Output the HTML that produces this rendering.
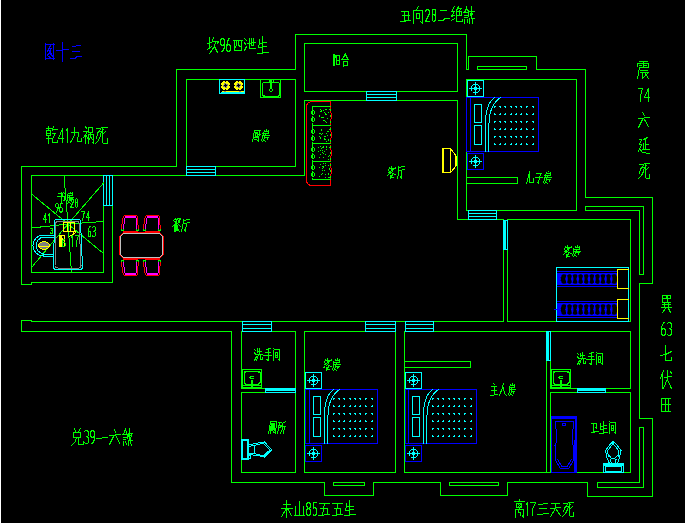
<!DOCTYPE html>
<html><head><meta charset="utf-8"><title>floor plan</title>
<style>
html,body{margin:0;padding:0;background:#000;font-family:"Liberation Sans",sans-serif;}
body{width:686px;height:523px;overflow:hidden;position:relative;}
svg{position:absolute;left:0;top:0;display:block;}
</style></head><body>
<svg width="686" height="523" viewBox="0 0 686 523" shape-rendering="crispEdges">
<rect x="0" y="0" width="686" height="523" fill="#000"/>
<rect x="0" y="0" width="1" height="523" fill="#fff"/>
<rect x="685" y="0" width="1" height="523" fill="#fff"/>
<g transform="translate(0.5,0.5)" fill="none" stroke-width="1" stroke-linecap="square" stroke-linejoin="miter">
<polygon points="176,69 295,69 295,34 466,34 466,69 468,69 468,56 536,56 536,69 585,69 585,197 652,197 652,283 639,283 639,418 652,418 652,496 587,496 587,482 507,482 507,495 440,495 440,482 373,482 373,495 324,495 324,482 231,482 231,331 21,331 21,320 31,320 31,321 503,321 503,219 457,219 457,100 304,100 304,175 112,175 112,282 31,282 31,284 21,284 21,166 176,166" stroke="#00ff00" fill="none"/>
<polygon points="304,43 457,43 457,91 304,91" stroke="#00ff00" fill="none"/>
<polygon points="186,79 295,79 295,166 186,166" stroke="#00ff00" fill="none"/>
<polygon points="31,175 103,175 103,272 31,272" stroke="#00ff00" fill="none"/>
<polygon points="466,79 576,79 576,210 466,210" stroke="#00ff00" fill="none"/>
<polygon points="507,219 630,219 630,321 507,321" stroke="#00ff00" fill="none"/>
<polygon points="585,206 643,206 643,274 639,274 639,210 585,210" stroke="#00ff00" fill="none"/>
<polygon points="639,427 643,427 643,487 597,487 597,482 639,482" stroke="#00ff00" fill="none"/>
<polygon points="550,331 630,331 630,388 550,388" stroke="#00ff00" fill="none"/>
<polygon points="550,392 630,392 630,472 550,472" stroke="#00ff00" fill="none"/>
<polyline points="546,472 546,331 404,331 404,472 550,472" stroke="#00ff00" fill="none"/>
<polygon points="304,331 395,331 395,472 304,472" stroke="#00ff00" fill="none"/>
<polygon points="241,331 295,331 295,388 241,388" stroke="#00ff00" fill="none"/>
<polygon points="241,392 295,392 295,472 241,472" stroke="#00ff00" fill="none"/>
<polygon points="477,66 526,66 526,69 477,69" stroke="#00ff00" fill="none"/>
<polygon points="333,482 364,482 364,485 333,485" stroke="#00ff00" fill="none"/>
<polygon points="449,482 498,482 498,485 449,485" stroke="#00ff00" fill="none"/>
<rect x="186.5" y="165.5" width="28" height="10" fill="#000" stroke="none"/>
<polygon points="186,166 215,166 215,175 186,175" stroke="#00ffff" fill="none"/>
<polyline points="186,169 215,169" stroke="#00ffff" fill="none"/>
<polyline points="186,172 215,172" stroke="#00ffff" fill="none"/>
<rect x="366.5" y="90.5" width="29" height="10" fill="#000" stroke="none"/>
<polygon points="366,91 396,91 396,100 366,100" stroke="#00ffff" fill="none"/>
<polyline points="366,94 396,94" stroke="#00ffff" fill="none"/>
<polyline points="366,97 396,97" stroke="#00ffff" fill="none"/>
<rect x="468.5" y="209.5" width="27" height="10" fill="#000" stroke="none"/>
<polygon points="468,210 496,210 496,219 468,219" stroke="#00ffff" fill="none"/>
<polyline points="468,213 496,213" stroke="#00ffff" fill="none"/>
<polyline points="468,216 496,216" stroke="#00ffff" fill="none"/>
<rect x="242.5" y="320.5" width="28" height="11" fill="#000" stroke="none"/>
<polygon points="242,321 271,321 271,331 242,331" stroke="#00ffff" fill="none"/>
<polyline points="242,324 271,324" stroke="#00ffff" fill="none"/>
<polyline points="242,328 271,328" stroke="#00ffff" fill="none"/>
<rect x="365.5" y="320.5" width="29" height="11" fill="#000" stroke="none"/>
<polygon points="365,321 395,321 395,331 365,331" stroke="#00ffff" fill="none"/>
<polyline points="365,324 395,324" stroke="#00ffff" fill="none"/>
<polyline points="365,328 395,328" stroke="#00ffff" fill="none"/>
<rect x="405.5" y="320.5" width="27" height="11" fill="#000" stroke="none"/>
<polygon points="405,321 433,321 433,331 405,331" stroke="#00ffff" fill="none"/>
<polyline points="405,324 433,324" stroke="#00ffff" fill="none"/>
<polyline points="405,328 433,328" stroke="#00ffff" fill="none"/>
<polygon points="103,175 112,175 112,205 103,205" stroke="#00ffff" fill="none"/>
<polyline points="106,175 106,205" stroke="#00ffff" fill="none"/>
<polyline points="109,175 109,205" stroke="#00ffff" fill="none"/>
<polygon points="503,220 507,220 507,249 503,249" stroke="#00ffff" fill="none"/>
<polyline points="505,220 505,249" stroke="#00ffff" fill="none"/>
<polyline points="504,220 504,249" stroke="#00ffff" fill="none"/>
<polygon points="546,331 550,331 550,360 546,360" stroke="#00ffff" fill="none"/>
<polyline points="548,331 548,360" stroke="#00ffff" fill="none"/>
<polyline points="547,331 547,360" stroke="#00ffff" fill="none"/>
<polygon points="265,388 295,388 295,392 265,392" stroke="#00ffff" fill="none"/>
<polyline points="265,389 295,389" stroke="#00ffff" fill="none"/>
<polyline points="265,390 295,390" stroke="#00ffff" fill="none"/>
<polygon points="577,388 605,388 605,392 577,392" stroke="#00ffff" fill="none"/>
<polyline points="577,389 605,389" stroke="#00ffff" fill="none"/>
<polyline points="577,390 605,390" stroke="#00ffff" fill="none"/>
<polyline points="67.5,223.5 63.5,175" stroke="#00ff00" fill="none"/>
<polyline points="67.5,223.5 103,182.5" stroke="#00ff00" fill="none"/>
<polyline points="67.5,223.5 103,221" stroke="#00ff00" fill="none"/>
<polyline points="67.5,223.5 103,253" stroke="#00ff00" fill="none"/>
<polyline points="67.5,223.5 71,272" stroke="#00ff00" fill="none"/>
<polyline points="67.5,223.5 31,267" stroke="#00ff00" fill="none"/>
<polyline points="67.5,223.5 31,227.5" stroke="#00ff00" fill="none"/>
<polyline points="67.5,223.5 31,193.5" stroke="#00ff00" fill="none"/>
<path d="M56,219 L78,219 Q80,219 80,221 L82,266 Q82,269 79,269 L56,269 Q53,269 53,266 L54,221 Q54,219 56,219 Z" stroke="#00ffff" fill="none"/>
<path d="M57,220.5 L77,220.5 Q78.5,220.5 78.5,222 L80.5,265 Q80.5,267.5 78,267.5 L57,267.5 Q54.5,267.5 54.5,265 L55.5,222 Q55.5,220.5 57,220.5 Z" stroke="#808080" fill="none"/>
<path d="M53,234.5 L43,234.5 A10.5,10.5 0 0 0 43,255.5 L53,255.5" stroke="#00ffff" fill="none"/>
<path d="M53,236.5 L43,236.5 A8.6,8.6 0 0 0 43,253.5 L53,253.5" stroke="#00ffff" fill="none"/>
<ellipse cx="43.5" cy="245" rx="5.5" ry="3.8" stroke="#ffff00" fill="#808080"/>
<polyline points="39,246 48,246" stroke="#ffff00" fill="none"/>
<polygon points="63,222 74,222 74,231 63,231" stroke="#ffff00" fill="none"/>
<polyline points="67,222 67,231" stroke="#ffff00" fill="none"/>
<polyline points="70,222 70,231" stroke="#ffff00" fill="none"/>
<polyline points="74,231 72,234 69,236" stroke="#ffff00" fill="none"/>
<polyline points="74,229 75,232 71,235" stroke="#ffff00" fill="none"/>
<polygon points="59,235 64,235 64,246 59,246" stroke="#ffff00" fill="none"/>
<rect x="59.5" y="235.5" width="2" height="10" fill="#ffff00" stroke="none"/>
<polyline points="62,238 62,244" stroke="#ffff00" fill="none"/>
<polygon points="219,79 244,79 244,93 219,93" stroke="#00ffff" fill="none"/>
<circle cx="225" cy="85" r="4.2" stroke="#ffff00" fill="#ffff00"/>
<rect x="224.5" y="82.5" width="1" height="1" fill="#808080" stroke="none"/>
<rect x="225.5" y="83.5" width="1" height="1" fill="#808080" stroke="none"/>
<rect x="226.5" y="84.5" width="1" height="1" fill="#808080" stroke="none"/>
<rect x="225.5" y="85.5" width="1" height="1" fill="#808080" stroke="none"/>
<rect x="224.5" y="86.5" width="1" height="1" fill="#808080" stroke="none"/>
<rect x="223.5" y="85.5" width="1" height="1" fill="#808080" stroke="none"/>
<rect x="222.5" y="84.5" width="1" height="1" fill="#808080" stroke="none"/>
<rect x="223.5" y="83.5" width="1" height="1" fill="#808080" stroke="none"/>
<rect x="223.5" y="82.5" width="1" height="1" fill="#808080" stroke="none"/>
<rect x="225.5" y="86.5" width="1" height="1" fill="#808080" stroke="none"/>
<rect x="226.5" y="83.5" width="1" height="1" fill="#808080" stroke="none"/>
<rect x="222.5" y="85.5" width="1" height="1" fill="#808080" stroke="none"/>
<rect x="223.5" y="84.5" width="3" height="1" fill="#000" stroke="none"/>
<rect x="224.5" y="83.5" width="1" height="3" fill="#000" stroke="none"/>
<rect x="220.5" y="84.5" width="1" height="1" fill="#000" stroke="none"/>
<rect x="228.5" y="84.5" width="1" height="1" fill="#000" stroke="none"/>
<rect x="224.5" y="80.5" width="1" height="1" fill="#000" stroke="none"/>
<rect x="224.5" y="88.5" width="1" height="1" fill="#000" stroke="none"/>
<circle cx="238" cy="85" r="4.2" stroke="#ffff00" fill="#ffff00"/>
<rect x="237.5" y="82.5" width="1" height="1" fill="#808080" stroke="none"/>
<rect x="238.5" y="83.5" width="1" height="1" fill="#808080" stroke="none"/>
<rect x="239.5" y="84.5" width="1" height="1" fill="#808080" stroke="none"/>
<rect x="238.5" y="85.5" width="1" height="1" fill="#808080" stroke="none"/>
<rect x="237.5" y="86.5" width="1" height="1" fill="#808080" stroke="none"/>
<rect x="236.5" y="85.5" width="1" height="1" fill="#808080" stroke="none"/>
<rect x="235.5" y="84.5" width="1" height="1" fill="#808080" stroke="none"/>
<rect x="236.5" y="83.5" width="1" height="1" fill="#808080" stroke="none"/>
<rect x="236.5" y="82.5" width="1" height="1" fill="#808080" stroke="none"/>
<rect x="238.5" y="86.5" width="1" height="1" fill="#808080" stroke="none"/>
<rect x="239.5" y="83.5" width="1" height="1" fill="#808080" stroke="none"/>
<rect x="235.5" y="85.5" width="1" height="1" fill="#808080" stroke="none"/>
<rect x="236.5" y="84.5" width="3" height="1" fill="#000" stroke="none"/>
<rect x="237.5" y="83.5" width="1" height="3" fill="#000" stroke="none"/>
<rect x="233.5" y="84.5" width="1" height="1" fill="#000" stroke="none"/>
<rect x="241.5" y="84.5" width="1" height="1" fill="#000" stroke="none"/>
<rect x="237.5" y="80.5" width="1" height="1" fill="#000" stroke="none"/>
<rect x="237.5" y="88.5" width="1" height="1" fill="#000" stroke="none"/>
<polyline points="222,91 243,91" stroke="#ffff00" fill="none"/>
<polyline points="221,92 243,92" stroke="#00ffff" fill="none"/>
<polyline points="224,91 225,91" stroke="#c08040" fill="none"/>
<polyline points="239,91 240,91" stroke="#c08040" fill="none"/>
<polygon points="260,79 280,79 280,97 260,97" stroke="#00ff00" fill="none"/>
<path d="M264,82 L277,82 Q279,82 279,84 L279,93 Q279,95.5 277,95.5 L264,95.5 Q262,95.5 262,93 L262,84 Q262,82 264,82 Z" stroke="#00ff00" fill="none"/>
<polyline points="269,79 269,82" stroke="#00ff00" fill="none"/>
<polyline points="273,79 273,82" stroke="#00ff00" fill="none"/>
<polyline points="270,80 270,88" stroke="#00ff00" fill="none"/>
<polyline points="271,80 271,88" stroke="#00ff00" fill="none"/>
<circle cx="270.5" cy="89.5" r="1.3" stroke="#00ff00" fill="none"/>
<polyline points="262,95 264,96" stroke="#00ff00" fill="none"/>
<polyline points="279,95 277,96" stroke="#00ff00" fill="none"/>
<path d="M330,101 L312,101 Q306,101 306,107 L306,179 Q306,185 312,185 L330,185" stroke="#ff0000" fill="none"/>
<polyline points="330,101 330,108" stroke="#ff0000" fill="none"/>
<polyline points="330,179 330,185" stroke="#ff0000" fill="none"/>
<polyline points="330,106 312,106 312,125 330,125" stroke="#00ff00" fill="none"/>
<polyline points="313,110 314,111 314,113 313,114" stroke="#00ff00" fill="none"/>
<rect x="311.5" y="114.5" width="1" height="1" fill="#000" stroke="none"/>
<rect x="310.5" y="110.5" width="1" height="3" fill="#00ff00" stroke="none"/>
<polyline points="313,117 314,118 314,120 313,121" stroke="#00ff00" fill="none"/>
<rect x="311.5" y="121.5" width="1" height="1" fill="#000" stroke="none"/>
<rect x="310.5" y="117.5" width="1" height="3" fill="#00ff00" stroke="none"/>
<polyline points="330,108 330,112 331,113 331,118 330,119 330,124" stroke="#ff0000" fill="none"/>
<rect x="329.5" y="108.5" width="1" height="2" fill="#00ff00" stroke="none"/>
<rect x="329.5" y="114.5" width="1" height="2" fill="#00ff00" stroke="none"/>
<rect x="329.5" y="120.5" width="1" height="2" fill="#00ff00" stroke="none"/>
<rect x="322.5" y="109.5" width="1" height="1" fill="#00ff00" stroke="none"/>
<rect x="325.5" y="108.5" width="1" height="1" fill="#00ff00" stroke="none"/>
<rect x="324.5" y="112.5" width="1" height="1" fill="#00ff00" stroke="none"/>
<rect x="318.5" y="115.5" width="1" height="1" fill="#00ff00" stroke="none"/>
<rect x="318.5" y="114.5" width="1" height="1" fill="#00ff00" stroke="none"/>
<rect x="319.5" y="108.5" width="1" height="1" fill="#00ff00" stroke="none"/>
<rect x="323.5" y="119.5" width="1" height="1" fill="#00ff00" stroke="none"/>
<rect x="320.5" y="110.5" width="1" height="1" fill="#00ff00" stroke="none"/>
<rect x="325.5" y="121.5" width="1" height="1" fill="#00ff00" stroke="none"/>
<rect x="324.5" y="113.5" width="1" height="1" fill="#00ff00" stroke="none"/>
<rect x="328.5" y="108.5" width="1" height="1" fill="#00ff00" stroke="none"/>
<rect x="327.5" y="111.5" width="1" height="1" fill="#00ff00" stroke="none"/>
<rect x="320.5" y="109.5" width="1" height="1" fill="#00ff00" stroke="none"/>
<rect x="322.5" y="119.5" width="1" height="1" fill="#00ff00" stroke="none"/>
<rect x="320.5" y="116.5" width="1" height="1" fill="#00ff00" stroke="none"/>
<rect x="325.5" y="113.5" width="1" height="1" fill="#00ff00" stroke="none"/>
<rect x="324.5" y="108.5" width="1" height="1" fill="#00ff00" stroke="none"/>
<rect x="319.5" y="110.5" width="1" height="1" fill="#00ff00" stroke="none"/>
<rect x="325.5" y="113.5" width="1" height="1" fill="#00ff00" stroke="none"/>
<rect x="322.5" y="116.5" width="1" height="1" fill="#00ff00" stroke="none"/>
<rect x="323.5" y="111.5" width="1" height="1" fill="#00ff00" stroke="none"/>
<rect x="326.5" y="117.5" width="1" height="1" fill="#00ff00" stroke="none"/>
<rect x="321.5" y="116.5" width="1" height="1" fill="#00ff00" stroke="none"/>
<rect x="324.5" y="120.5" width="1" height="1" fill="#00ff00" stroke="none"/>
<polyline points="330,125 312,125 312,143 330,143" stroke="#00ff00" fill="none"/>
<polyline points="313,129 314,130 314,132 313,133" stroke="#00ff00" fill="none"/>
<rect x="311.5" y="133.5" width="1" height="1" fill="#000" stroke="none"/>
<rect x="310.5" y="129.5" width="1" height="3" fill="#00ff00" stroke="none"/>
<polyline points="313,136 314,137 314,139 313,140" stroke="#00ff00" fill="none"/>
<rect x="311.5" y="140.5" width="1" height="1" fill="#000" stroke="none"/>
<rect x="310.5" y="136.5" width="1" height="3" fill="#00ff00" stroke="none"/>
<polyline points="330,127 330,131 331,132 331,137 330,138 330,142" stroke="#ff0000" fill="none"/>
<rect x="329.5" y="127.5" width="1" height="2" fill="#00ff00" stroke="none"/>
<rect x="329.5" y="133.5" width="1" height="2" fill="#00ff00" stroke="none"/>
<rect x="329.5" y="139.5" width="1" height="2" fill="#00ff00" stroke="none"/>
<rect x="326.5" y="130.5" width="1" height="1" fill="#00ff00" stroke="none"/>
<rect x="328.5" y="128.5" width="1" height="1" fill="#00ff00" stroke="none"/>
<rect x="323.5" y="137.5" width="1" height="1" fill="#00ff00" stroke="none"/>
<rect x="320.5" y="133.5" width="1" height="1" fill="#00ff00" stroke="none"/>
<rect x="318.5" y="135.5" width="1" height="1" fill="#00ff00" stroke="none"/>
<rect x="326.5" y="134.5" width="1" height="1" fill="#00ff00" stroke="none"/>
<rect x="327.5" y="130.5" width="1" height="1" fill="#00ff00" stroke="none"/>
<rect x="326.5" y="134.5" width="1" height="1" fill="#00ff00" stroke="none"/>
<rect x="325.5" y="132.5" width="1" height="1" fill="#00ff00" stroke="none"/>
<rect x="327.5" y="139.5" width="1" height="1" fill="#00ff00" stroke="none"/>
<rect x="324.5" y="135.5" width="1" height="1" fill="#00ff00" stroke="none"/>
<rect x="319.5" y="136.5" width="1" height="1" fill="#00ff00" stroke="none"/>
<rect x="325.5" y="140.5" width="1" height="1" fill="#00ff00" stroke="none"/>
<rect x="327.5" y="130.5" width="1" height="1" fill="#00ff00" stroke="none"/>
<rect x="323.5" y="135.5" width="1" height="1" fill="#00ff00" stroke="none"/>
<rect x="318.5" y="132.5" width="1" height="1" fill="#00ff00" stroke="none"/>
<rect x="320.5" y="128.5" width="1" height="1" fill="#00ff00" stroke="none"/>
<rect x="319.5" y="137.5" width="1" height="1" fill="#00ff00" stroke="none"/>
<rect x="320.5" y="129.5" width="1" height="1" fill="#00ff00" stroke="none"/>
<rect x="323.5" y="138.5" width="1" height="1" fill="#00ff00" stroke="none"/>
<rect x="319.5" y="132.5" width="1" height="1" fill="#00ff00" stroke="none"/>
<rect x="324.5" y="138.5" width="1" height="1" fill="#00ff00" stroke="none"/>
<rect x="327.5" y="138.5" width="1" height="1" fill="#00ff00" stroke="none"/>
<rect x="321.5" y="132.5" width="1" height="1" fill="#00ff00" stroke="none"/>
<polyline points="330,143 312,143 312,161 330,161" stroke="#00ff00" fill="none"/>
<polyline points="313,147 314,148 314,150 313,151" stroke="#00ff00" fill="none"/>
<rect x="311.5" y="151.5" width="1" height="1" fill="#000" stroke="none"/>
<rect x="310.5" y="147.5" width="1" height="3" fill="#00ff00" stroke="none"/>
<polyline points="313,154 314,155 314,157 313,158" stroke="#00ff00" fill="none"/>
<rect x="311.5" y="158.5" width="1" height="1" fill="#000" stroke="none"/>
<rect x="310.5" y="154.5" width="1" height="3" fill="#00ff00" stroke="none"/>
<polyline points="330,145 330,149 331,150 331,155 330,156 330,160" stroke="#ff0000" fill="none"/>
<rect x="329.5" y="145.5" width="1" height="2" fill="#00ff00" stroke="none"/>
<rect x="329.5" y="151.5" width="1" height="2" fill="#00ff00" stroke="none"/>
<rect x="329.5" y="157.5" width="1" height="2" fill="#00ff00" stroke="none"/>
<rect x="322.5" y="156.5" width="1" height="1" fill="#00ff00" stroke="none"/>
<rect x="328.5" y="146.5" width="1" height="1" fill="#00ff00" stroke="none"/>
<rect x="320.5" y="147.5" width="1" height="1" fill="#00ff00" stroke="none"/>
<rect x="321.5" y="151.5" width="1" height="1" fill="#00ff00" stroke="none"/>
<rect x="325.5" y="148.5" width="1" height="1" fill="#00ff00" stroke="none"/>
<rect x="317.5" y="150.5" width="1" height="1" fill="#00ff00" stroke="none"/>
<rect x="322.5" y="152.5" width="1" height="1" fill="#00ff00" stroke="none"/>
<rect x="328.5" y="154.5" width="1" height="1" fill="#00ff00" stroke="none"/>
<rect x="324.5" y="153.5" width="1" height="1" fill="#00ff00" stroke="none"/>
<rect x="325.5" y="145.5" width="1" height="1" fill="#00ff00" stroke="none"/>
<rect x="327.5" y="155.5" width="1" height="1" fill="#00ff00" stroke="none"/>
<rect x="327.5" y="155.5" width="1" height="1" fill="#00ff00" stroke="none"/>
<rect x="323.5" y="150.5" width="1" height="1" fill="#00ff00" stroke="none"/>
<rect x="319.5" y="153.5" width="1" height="1" fill="#00ff00" stroke="none"/>
<rect x="319.5" y="145.5" width="1" height="1" fill="#00ff00" stroke="none"/>
<rect x="321.5" y="146.5" width="1" height="1" fill="#00ff00" stroke="none"/>
<rect x="322.5" y="145.5" width="1" height="1" fill="#00ff00" stroke="none"/>
<rect x="317.5" y="146.5" width="1" height="1" fill="#00ff00" stroke="none"/>
<rect x="319.5" y="149.5" width="1" height="1" fill="#00ff00" stroke="none"/>
<rect x="318.5" y="156.5" width="1" height="1" fill="#00ff00" stroke="none"/>
<rect x="325.5" y="146.5" width="1" height="1" fill="#00ff00" stroke="none"/>
<rect x="321.5" y="149.5" width="1" height="1" fill="#00ff00" stroke="none"/>
<rect x="322.5" y="146.5" width="1" height="1" fill="#00ff00" stroke="none"/>
<rect x="327.5" y="158.5" width="1" height="1" fill="#00ff00" stroke="none"/>
<polyline points="330,161 312,161 312,179 330,179" stroke="#00ff00" fill="none"/>
<polyline points="313,165 314,166 314,168 313,169" stroke="#00ff00" fill="none"/>
<rect x="311.5" y="169.5" width="1" height="1" fill="#000" stroke="none"/>
<rect x="310.5" y="165.5" width="1" height="3" fill="#00ff00" stroke="none"/>
<polyline points="313,172 314,173 314,175 313,176" stroke="#00ff00" fill="none"/>
<rect x="311.5" y="176.5" width="1" height="1" fill="#000" stroke="none"/>
<rect x="310.5" y="172.5" width="1" height="3" fill="#00ff00" stroke="none"/>
<polyline points="330,163 330,167 331,168 331,173 330,174 330,178" stroke="#ff0000" fill="none"/>
<rect x="329.5" y="163.5" width="1" height="2" fill="#00ff00" stroke="none"/>
<rect x="329.5" y="169.5" width="1" height="2" fill="#00ff00" stroke="none"/>
<rect x="329.5" y="175.5" width="1" height="2" fill="#00ff00" stroke="none"/>
<rect x="323.5" y="169.5" width="1" height="1" fill="#00ff00" stroke="none"/>
<rect x="319.5" y="163.5" width="1" height="1" fill="#00ff00" stroke="none"/>
<rect x="322.5" y="166.5" width="1" height="1" fill="#00ff00" stroke="none"/>
<rect x="327.5" y="164.5" width="1" height="1" fill="#00ff00" stroke="none"/>
<rect x="318.5" y="175.5" width="1" height="1" fill="#00ff00" stroke="none"/>
<rect x="324.5" y="164.5" width="1" height="1" fill="#00ff00" stroke="none"/>
<rect x="324.5" y="162.5" width="1" height="1" fill="#00ff00" stroke="none"/>
<rect x="324.5" y="176.5" width="1" height="1" fill="#00ff00" stroke="none"/>
<rect x="327.5" y="172.5" width="1" height="1" fill="#00ff00" stroke="none"/>
<rect x="321.5" y="167.5" width="1" height="1" fill="#00ff00" stroke="none"/>
<rect x="320.5" y="173.5" width="1" height="1" fill="#00ff00" stroke="none"/>
<rect x="324.5" y="173.5" width="1" height="1" fill="#00ff00" stroke="none"/>
<rect x="322.5" y="165.5" width="1" height="1" fill="#00ff00" stroke="none"/>
<rect x="327.5" y="176.5" width="1" height="1" fill="#00ff00" stroke="none"/>
<rect x="327.5" y="173.5" width="1" height="1" fill="#00ff00" stroke="none"/>
<rect x="327.5" y="172.5" width="1" height="1" fill="#00ff00" stroke="none"/>
<rect x="321.5" y="169.5" width="1" height="1" fill="#00ff00" stroke="none"/>
<rect x="322.5" y="162.5" width="1" height="1" fill="#00ff00" stroke="none"/>
<rect x="318.5" y="166.5" width="1" height="1" fill="#00ff00" stroke="none"/>
<rect x="321.5" y="172.5" width="1" height="1" fill="#00ff00" stroke="none"/>
<rect x="328.5" y="168.5" width="1" height="1" fill="#00ff00" stroke="none"/>
<rect x="328.5" y="176.5" width="1" height="1" fill="#00ff00" stroke="none"/>
<rect x="328.5" y="167.5" width="1" height="1" fill="#00ff00" stroke="none"/>
<rect x="321.5" y="165.5" width="1" height="1" fill="#00ff00" stroke="none"/>
<polygon points="442,148 450,148 450,172 442,172" stroke="#ffff00" fill="none"/>
<polyline points="443,148 443,172" stroke="#ffff00" fill="none"/>
<polyline points="450,148 456,156 456,165 450,172" stroke="#ffff00" fill="none"/>
<polyline points="455,156 455,165" stroke="#ffff00" fill="none"/>
<polygon points="467,80 483,80 483,96 467,96" stroke="#00ffff" fill="none"/>
<circle cx="475" cy="88" r="4.5" stroke="#00ffff" fill="none"/>
<rect x="473.5" y="86.5" width="3" height="3" fill="#00ffff" stroke="none"/>
<polyline points="469,88 481,88" stroke="#00ffff" fill="none"/>
<polyline points="475,82 475,94" stroke="#00ffff" fill="none"/>
<polygon points="466,97 538,97 538,151 466,151" stroke="#0000ff" fill="none"/>
<polyline points="470,97 470,151" stroke="#0000ff" fill="none"/>
<polygon points="474,104 481,104 481,122 474,122" stroke="#00ffff" fill="none"/>
<polygon points="474,125 481,125 481,144 474,144" stroke="#00ffff" fill="none"/>
<path d="M494,97 Q485.5,103 485,121 L485,151" stroke="#00ffff" fill="none"/>
<path d="M500,97 Q489,104 488.5,123 L488,151" stroke="#00ffff" fill="none"/>
<rect x="493.5" y="105.5" width="2" height="1" fill="#00ffff" stroke="none"/>
<rect x="493.5" y="106.5" width="1" height="1" fill="#00ffff" stroke="none"/>
<rect x="498.5" y="105.5" width="2" height="1" fill="#00ffff" stroke="none"/>
<rect x="499.5" y="106.5" width="1" height="1" fill="#00ffff" stroke="none"/>
<rect x="503.5" y="105.5" width="2" height="1" fill="#00ffff" stroke="none"/>
<rect x="504.5" y="106.5" width="1" height="1" fill="#00ffff" stroke="none"/>
<rect x="509.5" y="105.5" width="2" height="1" fill="#00ffff" stroke="none"/>
<rect x="510.5" y="106.5" width="1" height="1" fill="#00ffff" stroke="none"/>
<rect x="514.5" y="105.5" width="2" height="1" fill="#00ffff" stroke="none"/>
<rect x="515.5" y="106.5" width="1" height="1" fill="#00ffff" stroke="none"/>
<rect x="519.5" y="105.5" width="2" height="1" fill="#00ffff" stroke="none"/>
<rect x="520.5" y="106.5" width="1" height="1" fill="#00ffff" stroke="none"/>
<rect x="525.5" y="105.5" width="2" height="1" fill="#00ffff" stroke="none"/>
<rect x="525.5" y="106.5" width="1" height="1" fill="#00ffff" stroke="none"/>
<rect x="531.5" y="105.5" width="2" height="1" fill="#00ffff" stroke="none"/>
<rect x="532.5" y="106.5" width="1" height="1" fill="#00ffff" stroke="none"/>
<rect x="493.5" y="113.5" width="2" height="1" fill="#00ffff" stroke="none"/>
<rect x="493.5" y="112.5" width="1" height="1" fill="#00ffff" stroke="none"/>
<rect x="498.5" y="113.5" width="2" height="1" fill="#00ffff" stroke="none"/>
<rect x="499.5" y="112.5" width="1" height="1" fill="#00ffff" stroke="none"/>
<rect x="503.5" y="113.5" width="2" height="1" fill="#00ffff" stroke="none"/>
<rect x="504.5" y="112.5" width="1" height="1" fill="#00ffff" stroke="none"/>
<rect x="509.5" y="113.5" width="2" height="1" fill="#00ffff" stroke="none"/>
<rect x="510.5" y="112.5" width="1" height="1" fill="#00ffff" stroke="none"/>
<rect x="514.5" y="113.5" width="2" height="1" fill="#00ffff" stroke="none"/>
<rect x="515.5" y="112.5" width="1" height="1" fill="#00ffff" stroke="none"/>
<rect x="519.5" y="113.5" width="2" height="1" fill="#00ffff" stroke="none"/>
<rect x="520.5" y="112.5" width="1" height="1" fill="#00ffff" stroke="none"/>
<rect x="525.5" y="113.5" width="2" height="1" fill="#00ffff" stroke="none"/>
<rect x="525.5" y="112.5" width="1" height="1" fill="#00ffff" stroke="none"/>
<rect x="531.5" y="113.5" width="2" height="1" fill="#00ffff" stroke="none"/>
<rect x="532.5" y="112.5" width="1" height="1" fill="#00ffff" stroke="none"/>
<rect x="493.5" y="120.5" width="2" height="1" fill="#00ffff" stroke="none"/>
<rect x="493.5" y="121.5" width="1" height="1" fill="#00ffff" stroke="none"/>
<rect x="498.5" y="120.5" width="2" height="1" fill="#00ffff" stroke="none"/>
<rect x="499.5" y="121.5" width="1" height="1" fill="#00ffff" stroke="none"/>
<rect x="503.5" y="120.5" width="2" height="1" fill="#00ffff" stroke="none"/>
<rect x="504.5" y="121.5" width="1" height="1" fill="#00ffff" stroke="none"/>
<rect x="509.5" y="120.5" width="2" height="1" fill="#00ffff" stroke="none"/>
<rect x="510.5" y="121.5" width="1" height="1" fill="#00ffff" stroke="none"/>
<rect x="514.5" y="120.5" width="2" height="1" fill="#00ffff" stroke="none"/>
<rect x="515.5" y="121.5" width="1" height="1" fill="#00ffff" stroke="none"/>
<rect x="519.5" y="120.5" width="2" height="1" fill="#00ffff" stroke="none"/>
<rect x="520.5" y="121.5" width="1" height="1" fill="#00ffff" stroke="none"/>
<rect x="525.5" y="120.5" width="2" height="1" fill="#00ffff" stroke="none"/>
<rect x="525.5" y="121.5" width="1" height="1" fill="#00ffff" stroke="none"/>
<rect x="531.5" y="120.5" width="2" height="1" fill="#00ffff" stroke="none"/>
<rect x="532.5" y="121.5" width="1" height="1" fill="#00ffff" stroke="none"/>
<rect x="493.5" y="128.5" width="2" height="1" fill="#00ffff" stroke="none"/>
<rect x="493.5" y="127.5" width="1" height="1" fill="#00ffff" stroke="none"/>
<rect x="498.5" y="128.5" width="2" height="1" fill="#00ffff" stroke="none"/>
<rect x="499.5" y="127.5" width="1" height="1" fill="#00ffff" stroke="none"/>
<rect x="503.5" y="128.5" width="2" height="1" fill="#00ffff" stroke="none"/>
<rect x="504.5" y="127.5" width="1" height="1" fill="#00ffff" stroke="none"/>
<rect x="509.5" y="128.5" width="2" height="1" fill="#00ffff" stroke="none"/>
<rect x="510.5" y="127.5" width="1" height="1" fill="#00ffff" stroke="none"/>
<rect x="514.5" y="128.5" width="2" height="1" fill="#00ffff" stroke="none"/>
<rect x="515.5" y="127.5" width="1" height="1" fill="#00ffff" stroke="none"/>
<rect x="519.5" y="128.5" width="2" height="1" fill="#00ffff" stroke="none"/>
<rect x="520.5" y="127.5" width="1" height="1" fill="#00ffff" stroke="none"/>
<rect x="525.5" y="128.5" width="2" height="1" fill="#00ffff" stroke="none"/>
<rect x="525.5" y="127.5" width="1" height="1" fill="#00ffff" stroke="none"/>
<rect x="531.5" y="128.5" width="2" height="1" fill="#00ffff" stroke="none"/>
<rect x="532.5" y="127.5" width="1" height="1" fill="#00ffff" stroke="none"/>
<rect x="493.5" y="135.5" width="2" height="1" fill="#00ffff" stroke="none"/>
<rect x="493.5" y="136.5" width="1" height="1" fill="#00ffff" stroke="none"/>
<rect x="498.5" y="135.5" width="2" height="1" fill="#00ffff" stroke="none"/>
<rect x="499.5" y="136.5" width="1" height="1" fill="#00ffff" stroke="none"/>
<rect x="503.5" y="135.5" width="2" height="1" fill="#00ffff" stroke="none"/>
<rect x="504.5" y="136.5" width="1" height="1" fill="#00ffff" stroke="none"/>
<rect x="509.5" y="135.5" width="2" height="1" fill="#00ffff" stroke="none"/>
<rect x="510.5" y="136.5" width="1" height="1" fill="#00ffff" stroke="none"/>
<rect x="514.5" y="135.5" width="2" height="1" fill="#00ffff" stroke="none"/>
<rect x="515.5" y="136.5" width="1" height="1" fill="#00ffff" stroke="none"/>
<rect x="519.5" y="135.5" width="2" height="1" fill="#00ffff" stroke="none"/>
<rect x="520.5" y="136.5" width="1" height="1" fill="#00ffff" stroke="none"/>
<rect x="525.5" y="135.5" width="2" height="1" fill="#00ffff" stroke="none"/>
<rect x="525.5" y="136.5" width="1" height="1" fill="#00ffff" stroke="none"/>
<rect x="531.5" y="135.5" width="2" height="1" fill="#00ffff" stroke="none"/>
<rect x="532.5" y="136.5" width="1" height="1" fill="#00ffff" stroke="none"/>
<rect x="493.5" y="143.5" width="2" height="1" fill="#00ffff" stroke="none"/>
<rect x="493.5" y="142.5" width="1" height="1" fill="#00ffff" stroke="none"/>
<rect x="498.5" y="143.5" width="2" height="1" fill="#00ffff" stroke="none"/>
<rect x="499.5" y="142.5" width="1" height="1" fill="#00ffff" stroke="none"/>
<rect x="503.5" y="143.5" width="2" height="1" fill="#00ffff" stroke="none"/>
<rect x="504.5" y="142.5" width="1" height="1" fill="#00ffff" stroke="none"/>
<rect x="509.5" y="143.5" width="2" height="1" fill="#00ffff" stroke="none"/>
<rect x="510.5" y="142.5" width="1" height="1" fill="#00ffff" stroke="none"/>
<rect x="514.5" y="143.5" width="2" height="1" fill="#00ffff" stroke="none"/>
<rect x="515.5" y="142.5" width="1" height="1" fill="#00ffff" stroke="none"/>
<rect x="519.5" y="143.5" width="2" height="1" fill="#00ffff" stroke="none"/>
<rect x="520.5" y="142.5" width="1" height="1" fill="#00ffff" stroke="none"/>
<rect x="525.5" y="143.5" width="2" height="1" fill="#00ffff" stroke="none"/>
<rect x="525.5" y="142.5" width="1" height="1" fill="#00ffff" stroke="none"/>
<rect x="531.5" y="143.5" width="2" height="1" fill="#00ffff" stroke="none"/>
<rect x="532.5" y="142.5" width="1" height="1" fill="#00ffff" stroke="none"/>
<polygon points="467,153 483,153 483,169 467,169" stroke="#0000ff" fill="none"/>
<circle cx="475" cy="161" r="4.5" stroke="#00ffff" fill="none"/>
<rect x="473.5" y="159.5" width="3" height="3" fill="#00ffff" stroke="none"/>
<polyline points="469,161 481,161" stroke="#00ffff" fill="none"/>
<polyline points="475,155 475,167" stroke="#00ffff" fill="none"/>
<polygon points="466,177 517,177 517,183 466,183" stroke="#00ff00" fill="none"/>
<polygon points="305,372 321,372 321,388 305,388" stroke="#00ffff" fill="none"/>
<circle cx="313" cy="380" r="4.5" stroke="#00ffff" fill="none"/>
<rect x="311.5" y="378.5" width="3" height="3" fill="#00ffff" stroke="none"/>
<polyline points="307,380 319,380" stroke="#00ffff" fill="none"/>
<polyline points="313,374 313,386" stroke="#00ffff" fill="none"/>
<polygon points="305,389 377,389 377,443 305,443" stroke="#0000ff" fill="none"/>
<polyline points="309,389 309,443" stroke="#0000ff" fill="none"/>
<polygon points="313,396 320,396 320,414 313,414" stroke="#00ffff" fill="none"/>
<polygon points="313,417 320,417 320,436 313,436" stroke="#00ffff" fill="none"/>
<path d="M333,389 Q324.5,395 324,413 L324,443" stroke="#00ffff" fill="none"/>
<path d="M339,389 Q328,396 327.5,415 L327,443" stroke="#00ffff" fill="none"/>
<rect x="332.5" y="397.5" width="2" height="1" fill="#00ffff" stroke="none"/>
<rect x="332.5" y="398.5" width="1" height="1" fill="#00ffff" stroke="none"/>
<rect x="337.5" y="397.5" width="2" height="1" fill="#00ffff" stroke="none"/>
<rect x="338.5" y="398.5" width="1" height="1" fill="#00ffff" stroke="none"/>
<rect x="342.5" y="397.5" width="2" height="1" fill="#00ffff" stroke="none"/>
<rect x="343.5" y="398.5" width="1" height="1" fill="#00ffff" stroke="none"/>
<rect x="348.5" y="397.5" width="2" height="1" fill="#00ffff" stroke="none"/>
<rect x="349.5" y="398.5" width="1" height="1" fill="#00ffff" stroke="none"/>
<rect x="353.5" y="397.5" width="2" height="1" fill="#00ffff" stroke="none"/>
<rect x="354.5" y="398.5" width="1" height="1" fill="#00ffff" stroke="none"/>
<rect x="358.5" y="397.5" width="2" height="1" fill="#00ffff" stroke="none"/>
<rect x="359.5" y="398.5" width="1" height="1" fill="#00ffff" stroke="none"/>
<rect x="364.5" y="397.5" width="2" height="1" fill="#00ffff" stroke="none"/>
<rect x="364.5" y="398.5" width="1" height="1" fill="#00ffff" stroke="none"/>
<rect x="370.5" y="397.5" width="2" height="1" fill="#00ffff" stroke="none"/>
<rect x="371.5" y="398.5" width="1" height="1" fill="#00ffff" stroke="none"/>
<rect x="332.5" y="405.5" width="2" height="1" fill="#00ffff" stroke="none"/>
<rect x="332.5" y="404.5" width="1" height="1" fill="#00ffff" stroke="none"/>
<rect x="337.5" y="405.5" width="2" height="1" fill="#00ffff" stroke="none"/>
<rect x="338.5" y="404.5" width="1" height="1" fill="#00ffff" stroke="none"/>
<rect x="342.5" y="405.5" width="2" height="1" fill="#00ffff" stroke="none"/>
<rect x="343.5" y="404.5" width="1" height="1" fill="#00ffff" stroke="none"/>
<rect x="348.5" y="405.5" width="2" height="1" fill="#00ffff" stroke="none"/>
<rect x="349.5" y="404.5" width="1" height="1" fill="#00ffff" stroke="none"/>
<rect x="353.5" y="405.5" width="2" height="1" fill="#00ffff" stroke="none"/>
<rect x="354.5" y="404.5" width="1" height="1" fill="#00ffff" stroke="none"/>
<rect x="358.5" y="405.5" width="2" height="1" fill="#00ffff" stroke="none"/>
<rect x="359.5" y="404.5" width="1" height="1" fill="#00ffff" stroke="none"/>
<rect x="364.5" y="405.5" width="2" height="1" fill="#00ffff" stroke="none"/>
<rect x="364.5" y="404.5" width="1" height="1" fill="#00ffff" stroke="none"/>
<rect x="370.5" y="405.5" width="2" height="1" fill="#00ffff" stroke="none"/>
<rect x="371.5" y="404.5" width="1" height="1" fill="#00ffff" stroke="none"/>
<rect x="332.5" y="412.5" width="2" height="1" fill="#00ffff" stroke="none"/>
<rect x="332.5" y="413.5" width="1" height="1" fill="#00ffff" stroke="none"/>
<rect x="337.5" y="412.5" width="2" height="1" fill="#00ffff" stroke="none"/>
<rect x="338.5" y="413.5" width="1" height="1" fill="#00ffff" stroke="none"/>
<rect x="342.5" y="412.5" width="2" height="1" fill="#00ffff" stroke="none"/>
<rect x="343.5" y="413.5" width="1" height="1" fill="#00ffff" stroke="none"/>
<rect x="348.5" y="412.5" width="2" height="1" fill="#00ffff" stroke="none"/>
<rect x="349.5" y="413.5" width="1" height="1" fill="#00ffff" stroke="none"/>
<rect x="353.5" y="412.5" width="2" height="1" fill="#00ffff" stroke="none"/>
<rect x="354.5" y="413.5" width="1" height="1" fill="#00ffff" stroke="none"/>
<rect x="358.5" y="412.5" width="2" height="1" fill="#00ffff" stroke="none"/>
<rect x="359.5" y="413.5" width="1" height="1" fill="#00ffff" stroke="none"/>
<rect x="364.5" y="412.5" width="2" height="1" fill="#00ffff" stroke="none"/>
<rect x="364.5" y="413.5" width="1" height="1" fill="#00ffff" stroke="none"/>
<rect x="370.5" y="412.5" width="2" height="1" fill="#00ffff" stroke="none"/>
<rect x="371.5" y="413.5" width="1" height="1" fill="#00ffff" stroke="none"/>
<rect x="332.5" y="420.5" width="2" height="1" fill="#00ffff" stroke="none"/>
<rect x="332.5" y="419.5" width="1" height="1" fill="#00ffff" stroke="none"/>
<rect x="337.5" y="420.5" width="2" height="1" fill="#00ffff" stroke="none"/>
<rect x="338.5" y="419.5" width="1" height="1" fill="#00ffff" stroke="none"/>
<rect x="342.5" y="420.5" width="2" height="1" fill="#00ffff" stroke="none"/>
<rect x="343.5" y="419.5" width="1" height="1" fill="#00ffff" stroke="none"/>
<rect x="348.5" y="420.5" width="2" height="1" fill="#00ffff" stroke="none"/>
<rect x="349.5" y="419.5" width="1" height="1" fill="#00ffff" stroke="none"/>
<rect x="353.5" y="420.5" width="2" height="1" fill="#00ffff" stroke="none"/>
<rect x="354.5" y="419.5" width="1" height="1" fill="#00ffff" stroke="none"/>
<rect x="358.5" y="420.5" width="2" height="1" fill="#00ffff" stroke="none"/>
<rect x="359.5" y="419.5" width="1" height="1" fill="#00ffff" stroke="none"/>
<rect x="364.5" y="420.5" width="2" height="1" fill="#00ffff" stroke="none"/>
<rect x="364.5" y="419.5" width="1" height="1" fill="#00ffff" stroke="none"/>
<rect x="370.5" y="420.5" width="2" height="1" fill="#00ffff" stroke="none"/>
<rect x="371.5" y="419.5" width="1" height="1" fill="#00ffff" stroke="none"/>
<rect x="332.5" y="427.5" width="2" height="1" fill="#00ffff" stroke="none"/>
<rect x="332.5" y="428.5" width="1" height="1" fill="#00ffff" stroke="none"/>
<rect x="337.5" y="427.5" width="2" height="1" fill="#00ffff" stroke="none"/>
<rect x="338.5" y="428.5" width="1" height="1" fill="#00ffff" stroke="none"/>
<rect x="342.5" y="427.5" width="2" height="1" fill="#00ffff" stroke="none"/>
<rect x="343.5" y="428.5" width="1" height="1" fill="#00ffff" stroke="none"/>
<rect x="348.5" y="427.5" width="2" height="1" fill="#00ffff" stroke="none"/>
<rect x="349.5" y="428.5" width="1" height="1" fill="#00ffff" stroke="none"/>
<rect x="353.5" y="427.5" width="2" height="1" fill="#00ffff" stroke="none"/>
<rect x="354.5" y="428.5" width="1" height="1" fill="#00ffff" stroke="none"/>
<rect x="358.5" y="427.5" width="2" height="1" fill="#00ffff" stroke="none"/>
<rect x="359.5" y="428.5" width="1" height="1" fill="#00ffff" stroke="none"/>
<rect x="364.5" y="427.5" width="2" height="1" fill="#00ffff" stroke="none"/>
<rect x="364.5" y="428.5" width="1" height="1" fill="#00ffff" stroke="none"/>
<rect x="370.5" y="427.5" width="2" height="1" fill="#00ffff" stroke="none"/>
<rect x="371.5" y="428.5" width="1" height="1" fill="#00ffff" stroke="none"/>
<rect x="332.5" y="435.5" width="2" height="1" fill="#00ffff" stroke="none"/>
<rect x="332.5" y="434.5" width="1" height="1" fill="#00ffff" stroke="none"/>
<rect x="337.5" y="435.5" width="2" height="1" fill="#00ffff" stroke="none"/>
<rect x="338.5" y="434.5" width="1" height="1" fill="#00ffff" stroke="none"/>
<rect x="342.5" y="435.5" width="2" height="1" fill="#00ffff" stroke="none"/>
<rect x="343.5" y="434.5" width="1" height="1" fill="#00ffff" stroke="none"/>
<rect x="348.5" y="435.5" width="2" height="1" fill="#00ffff" stroke="none"/>
<rect x="349.5" y="434.5" width="1" height="1" fill="#00ffff" stroke="none"/>
<rect x="353.5" y="435.5" width="2" height="1" fill="#00ffff" stroke="none"/>
<rect x="354.5" y="434.5" width="1" height="1" fill="#00ffff" stroke="none"/>
<rect x="358.5" y="435.5" width="2" height="1" fill="#00ffff" stroke="none"/>
<rect x="359.5" y="434.5" width="1" height="1" fill="#00ffff" stroke="none"/>
<rect x="364.5" y="435.5" width="2" height="1" fill="#00ffff" stroke="none"/>
<rect x="364.5" y="434.5" width="1" height="1" fill="#00ffff" stroke="none"/>
<rect x="370.5" y="435.5" width="2" height="1" fill="#00ffff" stroke="none"/>
<rect x="371.5" y="434.5" width="1" height="1" fill="#00ffff" stroke="none"/>
<polygon points="305,445 321,445 321,461 305,461" stroke="#0000ff" fill="none"/>
<circle cx="313" cy="453" r="4.5" stroke="#00ffff" fill="none"/>
<rect x="311.5" y="451.5" width="3" height="3" fill="#00ffff" stroke="none"/>
<polyline points="307,453 319,453" stroke="#00ffff" fill="none"/>
<polyline points="313,447 313,459" stroke="#00ffff" fill="none"/>
<polygon points="405,372 421,372 421,388 405,388" stroke="#00ffff" fill="none"/>
<circle cx="413" cy="380" r="4.5" stroke="#00ffff" fill="none"/>
<rect x="411.5" y="378.5" width="3" height="3" fill="#00ffff" stroke="none"/>
<polyline points="407,380 419,380" stroke="#00ffff" fill="none"/>
<polyline points="413,374 413,386" stroke="#00ffff" fill="none"/>
<polygon points="405,389 476,389 476,443 405,443" stroke="#0000ff" fill="none"/>
<polyline points="408,389 408,443" stroke="#0000ff" fill="none"/>
<polygon points="412,396 419,396 419,414 412,414" stroke="#00ffff" fill="none"/>
<polygon points="412,417 419,417 419,436 412,436" stroke="#00ffff" fill="none"/>
<path d="M432,389 Q423.5,395 423,413 L423,443" stroke="#00ffff" fill="none"/>
<path d="M438,389 Q427,396 426.5,415 L426,443" stroke="#00ffff" fill="none"/>
<rect x="431.5" y="397.5" width="2" height="1" fill="#00ffff" stroke="none"/>
<rect x="431.5" y="398.5" width="1" height="1" fill="#00ffff" stroke="none"/>
<rect x="436.5" y="397.5" width="2" height="1" fill="#00ffff" stroke="none"/>
<rect x="437.5" y="398.5" width="1" height="1" fill="#00ffff" stroke="none"/>
<rect x="441.5" y="397.5" width="2" height="1" fill="#00ffff" stroke="none"/>
<rect x="442.5" y="398.5" width="1" height="1" fill="#00ffff" stroke="none"/>
<rect x="447.5" y="397.5" width="2" height="1" fill="#00ffff" stroke="none"/>
<rect x="448.5" y="398.5" width="1" height="1" fill="#00ffff" stroke="none"/>
<rect x="452.5" y="397.5" width="2" height="1" fill="#00ffff" stroke="none"/>
<rect x="453.5" y="398.5" width="1" height="1" fill="#00ffff" stroke="none"/>
<rect x="457.5" y="397.5" width="2" height="1" fill="#00ffff" stroke="none"/>
<rect x="458.5" y="398.5" width="1" height="1" fill="#00ffff" stroke="none"/>
<rect x="463.5" y="397.5" width="2" height="1" fill="#00ffff" stroke="none"/>
<rect x="463.5" y="398.5" width="1" height="1" fill="#00ffff" stroke="none"/>
<rect x="469.5" y="397.5" width="2" height="1" fill="#00ffff" stroke="none"/>
<rect x="470.5" y="398.5" width="1" height="1" fill="#00ffff" stroke="none"/>
<rect x="431.5" y="405.5" width="2" height="1" fill="#00ffff" stroke="none"/>
<rect x="431.5" y="404.5" width="1" height="1" fill="#00ffff" stroke="none"/>
<rect x="436.5" y="405.5" width="2" height="1" fill="#00ffff" stroke="none"/>
<rect x="437.5" y="404.5" width="1" height="1" fill="#00ffff" stroke="none"/>
<rect x="441.5" y="405.5" width="2" height="1" fill="#00ffff" stroke="none"/>
<rect x="442.5" y="404.5" width="1" height="1" fill="#00ffff" stroke="none"/>
<rect x="447.5" y="405.5" width="2" height="1" fill="#00ffff" stroke="none"/>
<rect x="448.5" y="404.5" width="1" height="1" fill="#00ffff" stroke="none"/>
<rect x="452.5" y="405.5" width="2" height="1" fill="#00ffff" stroke="none"/>
<rect x="453.5" y="404.5" width="1" height="1" fill="#00ffff" stroke="none"/>
<rect x="457.5" y="405.5" width="2" height="1" fill="#00ffff" stroke="none"/>
<rect x="458.5" y="404.5" width="1" height="1" fill="#00ffff" stroke="none"/>
<rect x="463.5" y="405.5" width="2" height="1" fill="#00ffff" stroke="none"/>
<rect x="463.5" y="404.5" width="1" height="1" fill="#00ffff" stroke="none"/>
<rect x="469.5" y="405.5" width="2" height="1" fill="#00ffff" stroke="none"/>
<rect x="470.5" y="404.5" width="1" height="1" fill="#00ffff" stroke="none"/>
<rect x="431.5" y="412.5" width="2" height="1" fill="#00ffff" stroke="none"/>
<rect x="431.5" y="413.5" width="1" height="1" fill="#00ffff" stroke="none"/>
<rect x="436.5" y="412.5" width="2" height="1" fill="#00ffff" stroke="none"/>
<rect x="437.5" y="413.5" width="1" height="1" fill="#00ffff" stroke="none"/>
<rect x="441.5" y="412.5" width="2" height="1" fill="#00ffff" stroke="none"/>
<rect x="442.5" y="413.5" width="1" height="1" fill="#00ffff" stroke="none"/>
<rect x="447.5" y="412.5" width="2" height="1" fill="#00ffff" stroke="none"/>
<rect x="448.5" y="413.5" width="1" height="1" fill="#00ffff" stroke="none"/>
<rect x="452.5" y="412.5" width="2" height="1" fill="#00ffff" stroke="none"/>
<rect x="453.5" y="413.5" width="1" height="1" fill="#00ffff" stroke="none"/>
<rect x="457.5" y="412.5" width="2" height="1" fill="#00ffff" stroke="none"/>
<rect x="458.5" y="413.5" width="1" height="1" fill="#00ffff" stroke="none"/>
<rect x="463.5" y="412.5" width="2" height="1" fill="#00ffff" stroke="none"/>
<rect x="463.5" y="413.5" width="1" height="1" fill="#00ffff" stroke="none"/>
<rect x="469.5" y="412.5" width="2" height="1" fill="#00ffff" stroke="none"/>
<rect x="470.5" y="413.5" width="1" height="1" fill="#00ffff" stroke="none"/>
<rect x="431.5" y="420.5" width="2" height="1" fill="#00ffff" stroke="none"/>
<rect x="431.5" y="419.5" width="1" height="1" fill="#00ffff" stroke="none"/>
<rect x="436.5" y="420.5" width="2" height="1" fill="#00ffff" stroke="none"/>
<rect x="437.5" y="419.5" width="1" height="1" fill="#00ffff" stroke="none"/>
<rect x="441.5" y="420.5" width="2" height="1" fill="#00ffff" stroke="none"/>
<rect x="442.5" y="419.5" width="1" height="1" fill="#00ffff" stroke="none"/>
<rect x="447.5" y="420.5" width="2" height="1" fill="#00ffff" stroke="none"/>
<rect x="448.5" y="419.5" width="1" height="1" fill="#00ffff" stroke="none"/>
<rect x="452.5" y="420.5" width="2" height="1" fill="#00ffff" stroke="none"/>
<rect x="453.5" y="419.5" width="1" height="1" fill="#00ffff" stroke="none"/>
<rect x="457.5" y="420.5" width="2" height="1" fill="#00ffff" stroke="none"/>
<rect x="458.5" y="419.5" width="1" height="1" fill="#00ffff" stroke="none"/>
<rect x="463.5" y="420.5" width="2" height="1" fill="#00ffff" stroke="none"/>
<rect x="463.5" y="419.5" width="1" height="1" fill="#00ffff" stroke="none"/>
<rect x="469.5" y="420.5" width="2" height="1" fill="#00ffff" stroke="none"/>
<rect x="470.5" y="419.5" width="1" height="1" fill="#00ffff" stroke="none"/>
<rect x="431.5" y="427.5" width="2" height="1" fill="#00ffff" stroke="none"/>
<rect x="431.5" y="428.5" width="1" height="1" fill="#00ffff" stroke="none"/>
<rect x="436.5" y="427.5" width="2" height="1" fill="#00ffff" stroke="none"/>
<rect x="437.5" y="428.5" width="1" height="1" fill="#00ffff" stroke="none"/>
<rect x="441.5" y="427.5" width="2" height="1" fill="#00ffff" stroke="none"/>
<rect x="442.5" y="428.5" width="1" height="1" fill="#00ffff" stroke="none"/>
<rect x="447.5" y="427.5" width="2" height="1" fill="#00ffff" stroke="none"/>
<rect x="448.5" y="428.5" width="1" height="1" fill="#00ffff" stroke="none"/>
<rect x="452.5" y="427.5" width="2" height="1" fill="#00ffff" stroke="none"/>
<rect x="453.5" y="428.5" width="1" height="1" fill="#00ffff" stroke="none"/>
<rect x="457.5" y="427.5" width="2" height="1" fill="#00ffff" stroke="none"/>
<rect x="458.5" y="428.5" width="1" height="1" fill="#00ffff" stroke="none"/>
<rect x="463.5" y="427.5" width="2" height="1" fill="#00ffff" stroke="none"/>
<rect x="463.5" y="428.5" width="1" height="1" fill="#00ffff" stroke="none"/>
<rect x="469.5" y="427.5" width="2" height="1" fill="#00ffff" stroke="none"/>
<rect x="470.5" y="428.5" width="1" height="1" fill="#00ffff" stroke="none"/>
<rect x="431.5" y="435.5" width="2" height="1" fill="#00ffff" stroke="none"/>
<rect x="431.5" y="434.5" width="1" height="1" fill="#00ffff" stroke="none"/>
<rect x="436.5" y="435.5" width="2" height="1" fill="#00ffff" stroke="none"/>
<rect x="437.5" y="434.5" width="1" height="1" fill="#00ffff" stroke="none"/>
<rect x="441.5" y="435.5" width="2" height="1" fill="#00ffff" stroke="none"/>
<rect x="442.5" y="434.5" width="1" height="1" fill="#00ffff" stroke="none"/>
<rect x="447.5" y="435.5" width="2" height="1" fill="#00ffff" stroke="none"/>
<rect x="448.5" y="434.5" width="1" height="1" fill="#00ffff" stroke="none"/>
<rect x="452.5" y="435.5" width="2" height="1" fill="#00ffff" stroke="none"/>
<rect x="453.5" y="434.5" width="1" height="1" fill="#00ffff" stroke="none"/>
<rect x="457.5" y="435.5" width="2" height="1" fill="#00ffff" stroke="none"/>
<rect x="458.5" y="434.5" width="1" height="1" fill="#00ffff" stroke="none"/>
<rect x="463.5" y="435.5" width="2" height="1" fill="#00ffff" stroke="none"/>
<rect x="463.5" y="434.5" width="1" height="1" fill="#00ffff" stroke="none"/>
<rect x="469.5" y="435.5" width="2" height="1" fill="#00ffff" stroke="none"/>
<rect x="470.5" y="434.5" width="1" height="1" fill="#00ffff" stroke="none"/>
<polygon points="405,445 421,445 421,461 405,461" stroke="#0000ff" fill="none"/>
<circle cx="413" cy="453" r="4.5" stroke="#00ffff" fill="none"/>
<rect x="411.5" y="451.5" width="3" height="3" fill="#00ffff" stroke="none"/>
<polyline points="407,453 419,453" stroke="#00ffff" fill="none"/>
<polyline points="413,447 413,459" stroke="#00ffff" fill="none"/>
<polygon points="404,361 470,361 470,367 404,367" stroke="#00ff00" fill="none"/>
<polygon points="556,267 628,267 628,321 556,321" stroke="#00ffff" fill="none"/>
<polyline points="557,271 616,271" stroke="#0000ff" fill="none"/>
<polyline points="557,286 616,286" stroke="#0000ff" fill="none"/>
<rect x="556.5" y="272.5" width="60" height="12" fill="#0000ff" stroke="none"/>
<path d="M559.8,278.5 A3.6,5.2 0 1 0 567,278.5 A3.6,5.2 0 1 0 559.8,278.5 Z M565.38,278.5 A3.6,5.2 0 1 0 572.58,278.5 A3.6,5.2 0 1 0 565.38,278.5 Z M570.96,278.5 A3.6,5.2 0 1 0 578.16,278.5 A3.6,5.2 0 1 0 570.96,278.5 Z M576.54,278.5 A3.6,5.2 0 1 0 583.74,278.5 A3.6,5.2 0 1 0 576.54,278.5 Z M582.12,278.5 A3.6,5.2 0 1 0 589.32,278.5 A3.6,5.2 0 1 0 582.12,278.5 Z M587.7,278.5 A3.6,5.2 0 1 0 594.9,278.5 A3.6,5.2 0 1 0 587.7,278.5 Z M593.28,278.5 A3.6,5.2 0 1 0 600.48,278.5 A3.6,5.2 0 1 0 593.28,278.5 Z M598.86,278.5 A3.6,5.2 0 1 0 606.06,278.5 A3.6,5.2 0 1 0 598.86,278.5 Z M604.44,278.5 A3.6,5.2 0 1 0 611.64,278.5 A3.6,5.2 0 1 0 604.44,278.5 Z M610.02,278.5 A3.6,5.2 0 1 0 617.22,278.5 A3.6,5.2 0 1 0 610.02,278.5 Z " fill="#000" fill-rule="evenodd" stroke="#0000ff" stroke-width="0.8"/>
<polyline points="628,269 617,269 617,288 628,288" stroke="#ffff00" fill="none"/>
<polyline points="557,301 616,301" stroke="#0000ff" fill="none"/>
<polyline points="557,317 616,317" stroke="#0000ff" fill="none"/>
<rect x="556.5" y="302.5" width="60" height="13" fill="#0000ff" stroke="none"/>
<path d="M559.8,309 A3.6,5.7 0 1 0 567,309 A3.6,5.7 0 1 0 559.8,309 Z M565.38,309 A3.6,5.7 0 1 0 572.58,309 A3.6,5.7 0 1 0 565.38,309 Z M570.96,309 A3.6,5.7 0 1 0 578.16,309 A3.6,5.7 0 1 0 570.96,309 Z M576.54,309 A3.6,5.7 0 1 0 583.74,309 A3.6,5.7 0 1 0 576.54,309 Z M582.12,309 A3.6,5.7 0 1 0 589.32,309 A3.6,5.7 0 1 0 582.12,309 Z M587.7,309 A3.6,5.7 0 1 0 594.9,309 A3.6,5.7 0 1 0 587.7,309 Z M593.28,309 A3.6,5.7 0 1 0 600.48,309 A3.6,5.7 0 1 0 593.28,309 Z M598.86,309 A3.6,5.7 0 1 0 606.06,309 A3.6,5.7 0 1 0 598.86,309 Z M604.44,309 A3.6,5.7 0 1 0 611.64,309 A3.6,5.7 0 1 0 604.44,309 Z M610.02,309 A3.6,5.7 0 1 0 617.22,309 A3.6,5.7 0 1 0 610.02,309 Z " fill="#000" fill-rule="evenodd" stroke="#0000ff" stroke-width="0.8"/>
<polyline points="628,299 617,299 617,318 628,318" stroke="#ffff00" fill="none"/>
<polyline points="554,309 556,309" stroke="#0000ff" fill="none"/>
<polygon points="123,232 159,232 163,236 163,254 159,258 123,258 119,254 119,236" stroke="#ff0000" fill="none"/>
<polygon points="123,233 159,233 162,236 162,254 159,257 123,257 120,254 120,236" stroke="#c0c0c0" fill="none"/>
<rect x="123.5" y="214.5" width="13" height="1" fill="#ff0000" stroke="none"/>
<rect x="124.5" y="215.5" width="11" height="2" fill="#ff00ff" stroke="none"/>
<rect x="122.5" y="215.5" width="1" height="2" fill="#ff0000" stroke="none"/>
<rect x="136.5" y="215.5" width="1" height="9" fill="#ff0000" stroke="none"/>
<rect x="121.5" y="217.5" width="1" height="6" fill="#ff0000" stroke="none"/>
<rect x="123.5" y="217.5" width="1" height="6" fill="#ff00ff" stroke="none"/>
<rect x="135.5" y="217.5" width="1" height="11" fill="#ff00ff" stroke="none"/>
<rect x="120.5" y="223.5" width="1" height="5" fill="#ff0000" stroke="none"/>
<rect x="122.5" y="223.5" width="1" height="5" fill="#ff00ff" stroke="none"/>
<rect x="137.5" y="224.5" width="1" height="4" fill="#ff0000" stroke="none"/>
<rect x="120.5" y="228.5" width="3" height="2" fill="#00ff00" stroke="none"/>
<rect x="135.5" y="228.5" width="3" height="2" fill="#00ff00" stroke="none"/>
<rect x="121.5" y="228.5" width="1" height="1" fill="#000" stroke="none"/>
<rect x="136.5" y="228.5" width="1" height="1" fill="#000" stroke="none"/>
<rect x="122.5" y="230.5" width="15" height="1" fill="#ff0000" stroke="none"/>
<rect x="145.5" y="214.5" width="13" height="1" fill="#ff0000" stroke="none"/>
<rect x="146.5" y="215.5" width="11" height="2" fill="#ff00ff" stroke="none"/>
<rect x="144.5" y="215.5" width="1" height="2" fill="#ff0000" stroke="none"/>
<rect x="158.5" y="215.5" width="1" height="9" fill="#ff0000" stroke="none"/>
<rect x="143.5" y="217.5" width="1" height="6" fill="#ff0000" stroke="none"/>
<rect x="145.5" y="217.5" width="1" height="6" fill="#ff00ff" stroke="none"/>
<rect x="157.5" y="217.5" width="1" height="11" fill="#ff00ff" stroke="none"/>
<rect x="142.5" y="223.5" width="1" height="5" fill="#ff0000" stroke="none"/>
<rect x="144.5" y="223.5" width="1" height="5" fill="#ff00ff" stroke="none"/>
<rect x="159.5" y="224.5" width="1" height="4" fill="#ff0000" stroke="none"/>
<rect x="142.5" y="228.5" width="3" height="2" fill="#00ff00" stroke="none"/>
<rect x="157.5" y="228.5" width="3" height="2" fill="#00ff00" stroke="none"/>
<rect x="143.5" y="228.5" width="1" height="1" fill="#000" stroke="none"/>
<rect x="158.5" y="228.5" width="1" height="1" fill="#000" stroke="none"/>
<rect x="144.5" y="230.5" width="15" height="1" fill="#ff0000" stroke="none"/>
<rect x="123.5" y="274.5" width="13" height="1" fill="#ff0000" stroke="none"/>
<rect x="124.5" y="272.5" width="11" height="2" fill="#ff00ff" stroke="none"/>
<rect x="122.5" y="272.5" width="1" height="2" fill="#ff0000" stroke="none"/>
<rect x="136.5" y="265.5" width="1" height="9" fill="#ff0000" stroke="none"/>
<rect x="121.5" y="266.5" width="1" height="6" fill="#ff0000" stroke="none"/>
<rect x="123.5" y="266.5" width="1" height="6" fill="#ff00ff" stroke="none"/>
<rect x="135.5" y="261.5" width="1" height="11" fill="#ff00ff" stroke="none"/>
<rect x="120.5" y="261.5" width="1" height="5" fill="#ff0000" stroke="none"/>
<rect x="122.5" y="261.5" width="1" height="5" fill="#ff00ff" stroke="none"/>
<rect x="137.5" y="261.5" width="1" height="4" fill="#ff0000" stroke="none"/>
<rect x="120.5" y="259.5" width="3" height="2" fill="#00ff00" stroke="none"/>
<rect x="135.5" y="259.5" width="3" height="2" fill="#00ff00" stroke="none"/>
<rect x="121.5" y="260.5" width="1" height="1" fill="#000" stroke="none"/>
<rect x="136.5" y="260.5" width="1" height="1" fill="#000" stroke="none"/>
<rect x="122.5" y="258.5" width="15" height="1" fill="#ff0000" stroke="none"/>
<rect x="145.5" y="274.5" width="13" height="1" fill="#ff0000" stroke="none"/>
<rect x="146.5" y="272.5" width="11" height="2" fill="#ff00ff" stroke="none"/>
<rect x="144.5" y="272.5" width="1" height="2" fill="#ff0000" stroke="none"/>
<rect x="158.5" y="265.5" width="1" height="9" fill="#ff0000" stroke="none"/>
<rect x="143.5" y="266.5" width="1" height="6" fill="#ff0000" stroke="none"/>
<rect x="145.5" y="266.5" width="1" height="6" fill="#ff00ff" stroke="none"/>
<rect x="157.5" y="261.5" width="1" height="11" fill="#ff00ff" stroke="none"/>
<rect x="142.5" y="261.5" width="1" height="5" fill="#ff0000" stroke="none"/>
<rect x="144.5" y="261.5" width="1" height="5" fill="#ff00ff" stroke="none"/>
<rect x="159.5" y="261.5" width="1" height="4" fill="#ff0000" stroke="none"/>
<rect x="142.5" y="259.5" width="3" height="2" fill="#00ff00" stroke="none"/>
<rect x="157.5" y="259.5" width="3" height="2" fill="#00ff00" stroke="none"/>
<rect x="143.5" y="260.5" width="1" height="1" fill="#000" stroke="none"/>
<rect x="158.5" y="260.5" width="1" height="1" fill="#000" stroke="none"/>
<rect x="144.5" y="258.5" width="15" height="1" fill="#ff0000" stroke="none"/>
<polygon points="242,369 261,369 261,387 242,387" stroke="#00ff00" fill="none"/>
<path d="M245,370.5 L258,370.5 L259.5,372 L259.5,382 L258,383.5 L245,383.5 L243.5,382 L243.5,372 Z" stroke="#00ff00" fill="none"/>
<circle cx="244.5" cy="371.5" r="1" stroke="#00ff00" fill="none"/>
<circle cx="258.5" cy="371.5" r="1" stroke="#00ff00" fill="none"/>
<ellipse cx="251.5" cy="377" rx="2" ry="1" stroke="#00ff00" fill="none"/>
<rect x="250.5" y="379.5" width="2" height="7" fill="#00ff00" stroke="none"/>
<polyline points="249,384 254,384" stroke="#00ff00" fill="none"/>
<polyline points="243,385 260,385" stroke="#00ff00" fill="none"/>
<polygon points="551,369 570,369 570,387 551,387" stroke="#00ff00" fill="none"/>
<path d="M554,370.5 L567,370.5 L568.5,372 L568.5,382 L567,383.5 L554,383.5 L552.5,382 L552.5,372 Z" stroke="#00ff00" fill="none"/>
<circle cx="553.5" cy="371.5" r="1" stroke="#00ff00" fill="none"/>
<circle cx="567.5" cy="371.5" r="1" stroke="#00ff00" fill="none"/>
<ellipse cx="560.5" cy="377" rx="2" ry="1" stroke="#00ff00" fill="none"/>
<rect x="559.5" y="379.5" width="2" height="7" fill="#00ff00" stroke="none"/>
<polyline points="558,384 563,384" stroke="#00ff00" fill="none"/>
<polyline points="552,385 569,385" stroke="#00ff00" fill="none"/>
<rect x="240.5" y="438.5" width="8" height="21" fill="#00ffff" stroke="none"/>
<rect x="242.5" y="440.5" width="4" height="17" fill="#000" stroke="none"/>
<polygon points="248,455 250,455 250,458 248,458" stroke="#00ffff" fill="none"/>
<polyline points="248,444.5 257.5,442.5 264,441.5 271,449.3 264,456.5 257.5,455 248,454" stroke="#00ffff" fill="none"/>
<polygon points="254,445 257.5,443.8 263,443 269.5,449.3 263,455.5 257.5,454 254,453" stroke="#00ffff" fill="none"/>
<polyline points="248,446 254,445" stroke="#00ffff" fill="none"/>
<polyline points="248,452.5 254,453" stroke="#00ffff" fill="none"/>
<polygon points="603,463 623,463 623,472 603,472" stroke="#00ffff" fill="none"/>
<rect x="602.5" y="462.5" width="21" height="3" fill="#00ffff" stroke="none"/>
<polygon points="605,466 621,466 621,471 605,471" stroke="#00ffff" fill="none"/>
<polyline points="609,463 606.5,457.5 605,450 609,444.5 612.5,441 616.5,444.5 620.5,450 619,457.5 617,463" stroke="#00ffff" fill="none"/>
<polyline points="608,456.5 607,450.5 612.5,443 618.5,450.5 617.5,456.5" stroke="#00ffff" fill="none"/>
<path d="M608.5,455 Q612.8,461.5 617,455" stroke="#00ffff" fill="none"/>
<polyline points="610,459 611,463" stroke="#00ffff" fill="none"/>
<polyline points="615.5,459 614.5,463" stroke="#00ffff" fill="none"/>
<polygon points="551,416 576,416 576,472 551,472" stroke="#0000ff" fill="none"/>
<rect x="550.5" y="415.5" width="26" height="3" fill="#0000ff" stroke="none"/>
<rect x="573.5" y="439.5" width="3" height="33" fill="#0000ff" stroke="none"/>
<rect x="574.5" y="417.5" width="2" height="23" fill="#0000ff" stroke="none"/>
<polyline points="561,419 563.5,421 566,419" stroke="#000" fill="none"/>
<polyline points="555,421 573,421" stroke="#0000ff" fill="none"/>
<polyline points="555,421 555,428 556,429 556,442 555,443 554.5,445 555,446 555,460 560,468 568,468 573,460 573,446 572,443 572,429 573,428 573,421" stroke="#0000ff" fill="none"/>
<polyline points="557,459 561,465.5 567,465.5 571,459" stroke="#0000ff" fill="none"/>
<polygon points="562,422.5 564.5,422.5 564.5,425 562,425" stroke="#0000ff" fill="none"/>
<polyline points="45,43 45,59" stroke="#0000ff" fill="none"/>
<polyline points="53,43 53,59" stroke="#0000ff" fill="none"/>
<polyline points="45,44 54,44" stroke="#0000ff" fill="none"/>
<polyline points="45,58 54,58" stroke="#0000ff" fill="none"/>
<polyline points="50,45 47,51" stroke="#0000ff" fill="none"/>
<polyline points="48,48 51,48 47,55" stroke="#0000ff" fill="none"/>
<polyline points="49,50 52,56" stroke="#0000ff" fill="none"/>
<polyline points="49,53 50,54" stroke="#0000ff" fill="none"/>
<polyline points="48,56 50,57" stroke="#0000ff" fill="none"/>
<polyline points="56,50 61,50 63,49 68,49" stroke="#0000ff" fill="none"/>
<polyline points="62,42 62,61" stroke="#0000ff" fill="none"/>
<polyline points="72,46 75,46 76,45 80,45" stroke="#0000ff" fill="none"/>
<polyline points="72,51 79,51" stroke="#0000ff" fill="none"/>
<polyline points="70,58 75,58 76,56 81,56" stroke="#0000ff" fill="none"/>
<polyline points="207,43 211,42" stroke="#00ff00" fill="none"/>
<polyline points="209,37 209,47" stroke="#00ff00" fill="none"/>
<polyline points="207,49 211,46" stroke="#00ff00" fill="none"/>
<polyline points="213,37 212,40" stroke="#00ff00" fill="none"/>
<polyline points="212,41 218,41 217,43" stroke="#00ff00" fill="none"/>
<polyline points="215,42 214,46 209,53" stroke="#00ff00" fill="none"/>
<polyline points="214,46 217,52" stroke="#00ff00" fill="none"/>
<polyline points="224,43 223,45 221,45 220,43 220,40 221,38 223,38 224,40 224,44 224,47 222,51 221,51" stroke="#00ff00" fill="none"/>
<polyline points="229,38 228,38 227,42 226,46 226,49 227,51 229,51 230,49 230,46 229,44 227,44 226,46" stroke="#00ff00" fill="none"/>
<polyline points="234,40 234,50" stroke="#00ff00" fill="none"/>
<polyline points="233,40 242,40" stroke="#00ff00" fill="none"/>
<polyline points="241,40 241,50" stroke="#00ff00" fill="none"/>
<polyline points="234,50 241,50" stroke="#00ff00" fill="none"/>
<polyline points="236,40 236,44 235,47" stroke="#00ff00" fill="none"/>
<polyline points="238,40 238,45 240,46" stroke="#00ff00" fill="none"/>
<polyline points="244,38 246,40" stroke="#00ff00" fill="none"/>
<polyline points="244,42 245,44" stroke="#00ff00" fill="none"/>
<polyline points="244,50 246,46" stroke="#00ff00" fill="none"/>
<polyline points="247,43 255,42" stroke="#00ff00" fill="none"/>
<polyline points="249,38 249,48 255,48" stroke="#00ff00" fill="none"/>
<polyline points="251,38 251,45" stroke="#00ff00" fill="none"/>
<polyline points="253,38 253,45" stroke="#00ff00" fill="none"/>
<polyline points="251,45 253,45" stroke="#00ff00" fill="none"/>
<polyline points="259,39 259,44 258,45 258,47" stroke="#00ff00" fill="none"/>
<polyline points="259,43 262,43 262,42 266,42" stroke="#00ff00" fill="none"/>
<polyline points="262,36 262,52" stroke="#00ff00" fill="none"/>
<polyline points="258,47 261,47 263,46 266,46" stroke="#00ff00" fill="none"/>
<polyline points="257,53 262,53 263,52 268,52" stroke="#00ff00" fill="none"/>
<polyline points="401,11 408,11 408,20" stroke="#00ff00" fill="none"/>
<polyline points="404,11 404,20" stroke="#00ff00" fill="none"/>
<polyline points="402,15 409,15" stroke="#00ff00" fill="none"/>
<polyline points="400,21 405,21 405,20 410,20" stroke="#00ff00" fill="none"/>
<polyline points="418,6 416,9" stroke="#00ff00" fill="none"/>
<polyline points="413,10 413,23" stroke="#00ff00" fill="none"/>
<polyline points="413,10 422,10 422,23 420,21" stroke="#00ff00" fill="none"/>
<polyline points="416,13 419,13 419,18 416,18 416,13" stroke="#00ff00" fill="none"/>
<polyline points="425,11 426,9 428,9 429,11 429,13 425,21 429,21" stroke="#00ff00" fill="none"/>
<polyline points="433,9 435,9 435,11 435,14 433,14 432,14 432,11 432,9 433,9" stroke="#00ff00" fill="none"/>
<polyline points="433,14 435,15 435,18 435,20 433,21 432,20 432,18 432,15 433,14" stroke="#00ff00" fill="none"/>
<polyline points="440,10 446,10" stroke="#00ff00" fill="none"/>
<polyline points="438,20 443,20 444,18 449,18" stroke="#00ff00" fill="none"/>
<polyline points="454,6 451,11 454,11 451,16 454,15" stroke="#00ff00" fill="none"/>
<polyline points="451,20 454,18" stroke="#00ff00" fill="none"/>
<polyline points="458,6 456,10" stroke="#00ff00" fill="none"/>
<polyline points="458,8 461,8 459,10" stroke="#00ff00" fill="none"/>
<polyline points="456,11 461,11 461,15 456,15 456,11" stroke="#00ff00" fill="none"/>
<polyline points="459,11 459,15" stroke="#00ff00" fill="none"/>
<polyline points="456,15 456,21 462,21 462,19" stroke="#00ff00" fill="none"/>
<polyline points="466,6 466,8 465,10 464,12" stroke="#00ff00" fill="none"/>
<polyline points="467,9 468,11" stroke="#00ff00" fill="none"/>
<polyline points="463,12 468,12" stroke="#00ff00" fill="none"/>
<polyline points="464,15 468,15" stroke="#00ff00" fill="none"/>
<polyline points="464,17 467,17" stroke="#00ff00" fill="none"/>
<polyline points="468,12 468,16" stroke="#00ff00" fill="none"/>
<polyline points="471,6 471,14" stroke="#00ff00" fill="none"/>
<polyline points="469,11 474,11" stroke="#00ff00" fill="none"/>
<polyline points="470,13 471,17" stroke="#00ff00" fill="none"/>
<polyline points="472,13 471,17" stroke="#00ff00" fill="none"/>
<polyline points="471,13 471,17" stroke="#00ff00" fill="none"/>
<polyline points="470,13 472,13" stroke="#00ff00" fill="none"/>
<polyline points="471,18 474,18" stroke="#00ff00" fill="none"/>
<polyline points="464,19 464,23" stroke="#00ff00" fill="none"/>
<polyline points="467,19 467,22" stroke="#00ff00" fill="none"/>
<polyline points="469,18 469,23" stroke="#00ff00" fill="none"/>
<polyline points="472,19 472,23" stroke="#00ff00" fill="none"/>
<polyline points="46,128 51,128" stroke="#00ff00" fill="none"/>
<polyline points="48,126 48,130" stroke="#00ff00" fill="none"/>
<polyline points="46,130 50,130 50,135 46,135 46,130" stroke="#00ff00" fill="none"/>
<polyline points="46,133 50,133" stroke="#00ff00" fill="none"/>
<polyline points="46,138 51,138" stroke="#00ff00" fill="none"/>
<polyline points="48,135 48,143" stroke="#00ff00" fill="none"/>
<polyline points="53,126 52,130" stroke="#00ff00" fill="none"/>
<polyline points="52,129 57,129" stroke="#00ff00" fill="none"/>
<polyline points="52,133 55,133 52,138 52,142 57,142 57,140" stroke="#00ff00" fill="none"/>
<polyline points="62,128 58,138 63,138" stroke="#00ff00" fill="none"/>
<polyline points="62,128 62,142" stroke="#00ff00" fill="none"/>
<polyline points="67,128 67,142" stroke="#00ff00" fill="none"/>
<polyline points="66,130 67,128" stroke="#00ff00" fill="none"/>
<polyline points="74,127 74,135 70,142" stroke="#00ff00" fill="none"/>
<polyline points="71,132 78,132 77,141 81,141 81,138" stroke="#00ff00" fill="none"/>
<polyline points="85,126 86,128" stroke="#00ff00" fill="none"/>
<polyline points="83,131 87,131 83,137" stroke="#00ff00" fill="none"/>
<polyline points="85,134 85,143" stroke="#00ff00" fill="none"/>
<polyline points="86,135 87,138" stroke="#00ff00" fill="none"/>
<polyline points="88,127 92,127 92,132 88,132 88,127" stroke="#00ff00" fill="none"/>
<polyline points="88,134 88,143" stroke="#00ff00" fill="none"/>
<polyline points="88,134 93,134 93,143 92,142" stroke="#00ff00" fill="none"/>
<polyline points="90,132 90,136 89,139" stroke="#00ff00" fill="none"/>
<polyline points="90,136 92,139" stroke="#00ff00" fill="none"/>
<polyline points="96,128 100,128 101,127 107,127" stroke="#00ff00" fill="none"/>
<polyline points="100,129 98,131 97,133 96,138" stroke="#00ff00" fill="none"/>
<polyline points="103,129 100,133 100,135 98,140 95,143" stroke="#00ff00" fill="none"/>
<polyline points="98,131 101,131" stroke="#00ff00" fill="none"/>
<polyline points="102,128 102,142 103,143 107,143 107,138" stroke="#00ff00" fill="none"/>
<polyline points="105,131 102,134" stroke="#00ff00" fill="none"/>
<polyline points="639,61 647,61" stroke="#00ff00" fill="none"/>
<polyline points="637,66 637,63 648,63 648,66" stroke="#00ff00" fill="none"/>
<polyline points="643,61 643,66" stroke="#00ff00" fill="none"/>
<polyline points="639,65 641,65" stroke="#00ff00" fill="none"/>
<polyline points="644,65 646,65" stroke="#00ff00" fill="none"/>
<polyline points="639,67 648,67" stroke="#00ff00" fill="none"/>
<polyline points="639,67 638,73 637,78" stroke="#00ff00" fill="none"/>
<polyline points="640,70 647,70" stroke="#00ff00" fill="none"/>
<polyline points="640,72 648,72" stroke="#00ff00" fill="none"/>
<polyline points="642,72 642,78 644,76" stroke="#00ff00" fill="none"/>
<polyline points="644,72 648,78" stroke="#00ff00" fill="none"/>
<polyline points="647,73 645,75" stroke="#00ff00" fill="none"/>
<polyline points="638,88 642,88 640,95 640,101" stroke="#00ff00" fill="none"/>
<polyline points="648,88 644,97 649,97" stroke="#00ff00" fill="none"/>
<polyline points="648,88 648,101" stroke="#00ff00" fill="none"/>
<polyline points="642,112 644,115" stroke="#00ff00" fill="none"/>
<polyline points="638,118 643,118 644,117 649,117" stroke="#00ff00" fill="none"/>
<polyline points="642,119 638,127" stroke="#00ff00" fill="none"/>
<polyline points="644,119 648,126" stroke="#00ff00" fill="none"/>
<polyline points="639,139 641,139 639,144 641,144 638,151" stroke="#00ff00" fill="none"/>
<polyline points="639,148 642,152 649,153" stroke="#00ff00" fill="none"/>
<polyline points="647,137 643,139" stroke="#00ff00" fill="none"/>
<polyline points="645,139 645,149" stroke="#00ff00" fill="none"/>
<polyline points="645,144 648,144" stroke="#00ff00" fill="none"/>
<polyline points="643,143 643,149" stroke="#00ff00" fill="none"/>
<polyline points="642,149 649,149" stroke="#00ff00" fill="none"/>
<polyline points="639,164 643,164 644,163 649,163" stroke="#00ff00" fill="none"/>
<polyline points="643,165 641,167 640,169 639,173" stroke="#00ff00" fill="none"/>
<polyline points="646,165 643,169 643,171 641,175 638,178" stroke="#00ff00" fill="none"/>
<polyline points="641,167 644,167" stroke="#00ff00" fill="none"/>
<polyline points="645,164 645,177 646,178 649,178 649,174" stroke="#00ff00" fill="none"/>
<polyline points="648,167 645,170" stroke="#00ff00" fill="none"/>
<polyline points="662,295 666,295 666,298 662,298" stroke="#00ff00" fill="none"/>
<polyline points="662,295 662,302 666,302" stroke="#00ff00" fill="none"/>
<polyline points="667,295 670,295 670,298 667,298" stroke="#00ff00" fill="none"/>
<polyline points="667,295 667,302 670,302" stroke="#00ff00" fill="none"/>
<polyline points="664,302 664,307" stroke="#00ff00" fill="none"/>
<polyline points="668,302 668,307" stroke="#00ff00" fill="none"/>
<polyline points="662,304 670,304" stroke="#00ff00" fill="none"/>
<polyline points="661,307 671,307" stroke="#00ff00" fill="none"/>
<polyline points="665,308 662,312" stroke="#00ff00" fill="none"/>
<polyline points="668,308 670,312" stroke="#00ff00" fill="none"/>
<polyline points="664,322 663,322 661,327 661,330 661,333 662,335 664,335 665,333 665,330 664,328 662,328 661,330" stroke="#00ff00" fill="none"/>
<polyline points="667,323 668,322 670,322 671,324 671,327 670,328 669,328" stroke="#00ff00" fill="none"/>
<polyline points="670,328 671,330 671,333 670,335 668,335 667,334" stroke="#00ff00" fill="none"/>
<polyline points="665,345 665,360 671,360 671,357" stroke="#00ff00" fill="none"/>
<polyline points="660,355 665,354 671,351" stroke="#00ff00" fill="none"/>
<polyline points="663,370 660,378" stroke="#00ff00" fill="none"/>
<polyline points="662,374 662,388" stroke="#00ff00" fill="none"/>
<polyline points="664,377 671,376" stroke="#00ff00" fill="none"/>
<polyline points="667,370 667,378 663,388" stroke="#00ff00" fill="none"/>
<polyline points="667,379 671,388" stroke="#00ff00" fill="none"/>
<polyline points="670,371 671,373" stroke="#00ff00" fill="none"/>
<polyline points="661,398 665,398 665,411 661,411 661,398" stroke="#00ff00" fill="none"/>
<polyline points="661,404 665,404" stroke="#00ff00" fill="none"/>
<polyline points="666,398 670,398" stroke="#00ff00" fill="none"/>
<polyline points="666,404 670,404" stroke="#00ff00" fill="none"/>
<polyline points="666,411 670,411" stroke="#00ff00" fill="none"/>
<polyline points="668,398 668,411" stroke="#00ff00" fill="none"/>
<polyline points="74,428 75,431" stroke="#00ff00" fill="none"/>
<polyline points="80,428 78,431" stroke="#00ff00" fill="none"/>
<polyline points="73,432 80,432 80,437 73,437 73,432" stroke="#00ff00" fill="none"/>
<polyline points="76,437 75,441 71,445" stroke="#00ff00" fill="none"/>
<polyline points="78,437 78,444 83,444 83,441" stroke="#00ff00" fill="none"/>
<polyline points="84,431 85,430 87,430 88,432 88,435 87,436 86,436" stroke="#00ff00" fill="none"/>
<polyline points="87,436 88,438 88,442 87,443 85,443 84,442" stroke="#00ff00" fill="none"/>
<polyline points="94,435 93,437 91,437 90,435 90,432 91,430 93,430 94,432 94,436 94,439 92,443 91,443" stroke="#00ff00" fill="none"/>
<polyline points="96,438 101,438 102,437 107,437" stroke="#00ff00" fill="none"/>
<polyline points="114,429 115,432" stroke="#00ff00" fill="none"/>
<polyline points="109,435 115,435 115,434 120,434" stroke="#00ff00" fill="none"/>
<polyline points="113,436 109,444" stroke="#00ff00" fill="none"/>
<polyline points="116,436 119,443" stroke="#00ff00" fill="none"/>
<polyline points="125,428 125,429 124,431 123,434" stroke="#00ff00" fill="none"/>
<polyline points="126,431 126,433" stroke="#00ff00" fill="none"/>
<polyline points="122,434 126,434" stroke="#00ff00" fill="none"/>
<polyline points="123,437 126,437" stroke="#00ff00" fill="none"/>
<polyline points="123,439 125,439" stroke="#00ff00" fill="none"/>
<polyline points="127,434 127,438" stroke="#00ff00" fill="none"/>
<polyline points="129,428 129,436" stroke="#00ff00" fill="none"/>
<polyline points="128,433 132,433" stroke="#00ff00" fill="none"/>
<polyline points="128,434 129,439" stroke="#00ff00" fill="none"/>
<polyline points="131,434 130,439" stroke="#00ff00" fill="none"/>
<polyline points="129,434 129,439" stroke="#00ff00" fill="none"/>
<polyline points="129,435 130,435" stroke="#00ff00" fill="none"/>
<polyline points="129,440 132,440" stroke="#00ff00" fill="none"/>
<polyline points="123,441 123,445" stroke="#00ff00" fill="none"/>
<polyline points="125,441 126,444" stroke="#00ff00" fill="none"/>
<polyline points="128,440 128,445" stroke="#00ff00" fill="none"/>
<polyline points="130,441 131,445" stroke="#00ff00" fill="none"/>
<polyline points="283,504 290,504" stroke="#00ff00" fill="none"/>
<polyline points="281,508 292,508" stroke="#00ff00" fill="none"/>
<polyline points="286,500 286,517" stroke="#00ff00" fill="none"/>
<polyline points="286,508 281,516" stroke="#00ff00" fill="none"/>
<polyline points="287,508 291,515" stroke="#00ff00" fill="none"/>
<polyline points="299,501 299,515" stroke="#00ff00" fill="none"/>
<polyline points="295,506 295,515" stroke="#00ff00" fill="none"/>
<polyline points="303,506 303,515" stroke="#00ff00" fill="none"/>
<polyline points="294,515 304,515" stroke="#00ff00" fill="none"/>
<polyline points="308,502 310,503 310,505 310,507 308,508 307,507 306,505 306,503 308,502" stroke="#00ff00" fill="none"/>
<polyline points="308,508 310,509 310,512 310,514 308,515 306,514 306,512 306,509 308,508" stroke="#00ff00" fill="none"/>
<polyline points="316,502 313,502 313,508 314,507 315,507 316,509 316,513 315,515 313,515 313,514" stroke="#00ff00" fill="none"/>
<polyline points="319,503 329,503" stroke="#00ff00" fill="none"/>
<polyline points="324,503 322,514" stroke="#00ff00" fill="none"/>
<polyline points="320,508 327,508 327,514" stroke="#00ff00" fill="none"/>
<polyline points="318,515 323,515 324,514 329,514" stroke="#00ff00" fill="none"/>
<polyline points="332,503 342,503" stroke="#00ff00" fill="none"/>
<polyline points="337,503 336,514" stroke="#00ff00" fill="none"/>
<polyline points="334,508 340,508 340,514" stroke="#00ff00" fill="none"/>
<polyline points="332,515 336,515 337,514 342,514" stroke="#00ff00" fill="none"/>
<polyline points="346,503 346,507 345,508 345,510" stroke="#00ff00" fill="none"/>
<polyline points="346,506 349,506 349,506 353,506" stroke="#00ff00" fill="none"/>
<polyline points="349,500 349,515" stroke="#00ff00" fill="none"/>
<polyline points="345,510 348,510 349,509 353,509" stroke="#00ff00" fill="none"/>
<polyline points="344,515 349,515 350,514 355,514" stroke="#00ff00" fill="none"/>
<polyline points="519,499 519,501" stroke="#00ff00" fill="none"/>
<polyline points="514,501 524,501" stroke="#00ff00" fill="none"/>
<polyline points="516,503 521,503 521,507 516,507 516,503" stroke="#00ff00" fill="none"/>
<polyline points="518,504 520,506" stroke="#00ff00" fill="none"/>
<polyline points="520,504 518,506" stroke="#00ff00" fill="none"/>
<polyline points="515,509 515,517" stroke="#00ff00" fill="none"/>
<polyline points="515,509 523,509 523,517 522,515" stroke="#00ff00" fill="none"/>
<polyline points="519,507 518,512 520,512 520,515" stroke="#00ff00" fill="none"/>
<polyline points="527,502 527,515" stroke="#00ff00" fill="none"/>
<polyline points="526,504 527,502" stroke="#00ff00" fill="none"/>
<polyline points="530,502 535,502 532,509 532,515" stroke="#00ff00" fill="none"/>
<polyline points="538,504 542,504 543,503 547,503" stroke="#00ff00" fill="none"/>
<polyline points="539,508 546,508" stroke="#00ff00" fill="none"/>
<polyline points="537,514 542,514 543,513 548,513" stroke="#00ff00" fill="none"/>
<polyline points="551,503 559,503" stroke="#00ff00" fill="none"/>
<polyline points="550,508 555,508 555,507 560,507" stroke="#00ff00" fill="none"/>
<polyline points="555,503 555,508 550,516" stroke="#00ff00" fill="none"/>
<polyline points="555,508 560,515" stroke="#00ff00" fill="none"/>
<polyline points="563,503 567,503 568,502 573,502" stroke="#00ff00" fill="none"/>
<polyline points="567,504 565,506 564,508 563,511" stroke="#00ff00" fill="none"/>
<polyline points="570,504 567,508 567,509 565,513 562,516" stroke="#00ff00" fill="none"/>
<polyline points="565,506 568,506" stroke="#00ff00" fill="none"/>
<polyline points="569,503 569,515 570,516 573,516 573,512" stroke="#00ff00" fill="none"/>
<polyline points="572,506 569,509" stroke="#00ff00" fill="none"/>
<polyline points="333,54 333,65" stroke="#00ff00" fill="none"/>
<polyline points="334,54 334,65" stroke="#00ff00" fill="none"/>
<polyline points="334,54 335,56 334,59" stroke="#00ff00" fill="none"/>
<polyline points="336,55 339,55 339,64 336,64 336,55" stroke="#00ff00" fill="none"/>
<polyline points="336,60 339,60" stroke="#00ff00" fill="none"/>
<polyline points="345,53 343,57 342,58" stroke="#00ff00" fill="none"/>
<polyline points="345,54 347,58" stroke="#00ff00" fill="none"/>
<polyline points="341,59 348,59" stroke="#00ff00" fill="none"/>
<polyline points="343,61 347,61 347,65 343,65 343,61" stroke="#00ff00" fill="none"/>
<polyline points="343,65 343,66" stroke="#00ff00" fill="none"/>
<polyline points="254,130 260,130" stroke="#00ff00" fill="none"/>
<polyline points="254,130 253,136 252,141" stroke="#00ff00" fill="none"/>
<polyline points="255,132 257,132" stroke="#00ff00" fill="none"/>
<polyline points="255,133 257,133 257,136 255,136 255,133" stroke="#00ff00" fill="none"/>
<polyline points="254,137 257,137" stroke="#00ff00" fill="none"/>
<polyline points="255,136 255,137" stroke="#00ff00" fill="none"/>
<polyline points="257,134 260,134" stroke="#00ff00" fill="none"/>
<polyline points="259,131 258,141 257,140" stroke="#00ff00" fill="none"/>
<polyline points="257,136 258,137" stroke="#00ff00" fill="none"/>
<polyline points="254,139 256,139" stroke="#00ff00" fill="none"/>
<polyline points="266,129 266,130" stroke="#00ff00" fill="none"/>
<polyline points="264,130 264,131 267,131" stroke="#00ff00" fill="none"/>
<polyline points="268,130 268,133" stroke="#00ff00" fill="none"/>
<polyline points="262,133 268,133" stroke="#00ff00" fill="none"/>
<polyline points="263,132 262,138 261,139 261,140" stroke="#00ff00" fill="none"/>
<polyline points="263,135 269,135" stroke="#00ff00" fill="none"/>
<polyline points="265,134 264,138" stroke="#00ff00" fill="none"/>
<polyline points="265,137 268,137" stroke="#00ff00" fill="none"/>
<polyline points="267,137 267,139" stroke="#00ff00" fill="none"/>
<polyline points="263,139 263,140" stroke="#00ff00" fill="none"/>
<polyline points="264,140 265,141" stroke="#00ff00" fill="none"/>
<polyline points="262,141 262,141" stroke="#00ff00" fill="none"/>
<polyline points="391,166 391,167" stroke="#00ff00" fill="none"/>
<polyline points="389,167 389,168 395,168 395,167" stroke="#00ff00" fill="none"/>
<polyline points="388,169 388,170" stroke="#00ff00" fill="none"/>
<polyline points="392,168 390,171 388,172" stroke="#00ff00" fill="none"/>
<polyline points="391,170 393,169 391,172 389,173 387,175" stroke="#00ff00" fill="none"/>
<polyline points="390,171 392,173 395,174" stroke="#00ff00" fill="none"/>
<polyline points="390,175 390,178" stroke="#00ff00" fill="none"/>
<polyline points="390,177 393,177" stroke="#00ff00" fill="none"/>
<polyline points="392,174 391,176" stroke="#00ff00" fill="none"/>
<polyline points="398,167 400,167 401,166 404,166" stroke="#00ff00" fill="none"/>
<polyline points="398,166 398,175 397,176 397,178" stroke="#00ff00" fill="none"/>
<polyline points="399,170 401,170 402,169 404,169" stroke="#00ff00" fill="none"/>
<polyline points="401,170 401,178" stroke="#00ff00" fill="none"/>
<polyline points="400,176 400,177" stroke="#00ff00" fill="none"/>
<polyline points="175,218 173,220" stroke="#00ff00" fill="none"/>
<polyline points="174,219 176,219" stroke="#00ff00" fill="none"/>
<polyline points="174,221 176,222" stroke="#00ff00" fill="none"/>
<polyline points="177,218 180,218 178,222" stroke="#00ff00" fill="none"/>
<polyline points="177,219 179,222" stroke="#00ff00" fill="none"/>
<polyline points="176,222 172,226" stroke="#00ff00" fill="none"/>
<polyline points="176,222 180,226" stroke="#00ff00" fill="none"/>
<polyline points="174,225 177,225" stroke="#00ff00" fill="none"/>
<polyline points="174,226 177,226 177,229 174,229 174,226" stroke="#00ff00" fill="none"/>
<polyline points="174,227 177,227" stroke="#00ff00" fill="none"/>
<polyline points="174,229 174,231 176,230" stroke="#00ff00" fill="none"/>
<polyline points="176,229 179,231" stroke="#00ff00" fill="none"/>
<polyline points="178,229 177,230" stroke="#00ff00" fill="none"/>
<polyline points="176,219 176,226" stroke="#00ff00" fill="none"/>
<polyline points="175,222 175,231" stroke="#00ff00" fill="none"/>
<polyline points="176,222 176,229" stroke="#00ff00" fill="none"/>
<polyline points="183,220 185,220 186,219 189,219" stroke="#00ff00" fill="none"/>
<polyline points="183,219 182,228 181,229 181,231" stroke="#00ff00" fill="none"/>
<polyline points="183,223 186,223 187,222 189,222" stroke="#00ff00" fill="none"/>
<polyline points="186,223 185,231" stroke="#00ff00" fill="none"/>
<polyline points="184,229 184,230" stroke="#00ff00" fill="none"/>
<polyline points="529,171 528,176 526,183" stroke="#00ff00" fill="none"/>
<polyline points="529,172 529,182 533,182 533,178" stroke="#00ff00" fill="none"/>
<polyline points="536,173 541,173 539,176" stroke="#00ff00" fill="none"/>
<polyline points="535,177 542,177" stroke="#00ff00" fill="none"/>
<polyline points="539,176 538,183 537,182" stroke="#00ff00" fill="none"/>
<polyline points="548,171 548,171" stroke="#00ff00" fill="none"/>
<polyline points="546,172 546,173 549,173" stroke="#00ff00" fill="none"/>
<polyline points="550,172 550,175" stroke="#00ff00" fill="none"/>
<polyline points="544,175 550,175" stroke="#00ff00" fill="none"/>
<polyline points="545,174 544,180 543,181 543,182" stroke="#00ff00" fill="none"/>
<polyline points="545,177 551,177" stroke="#00ff00" fill="none"/>
<polyline points="547,176 546,180" stroke="#00ff00" fill="none"/>
<polyline points="546,179 550,179" stroke="#00ff00" fill="none"/>
<polyline points="549,179 549,181" stroke="#00ff00" fill="none"/>
<polyline points="545,181 545,182" stroke="#00ff00" fill="none"/>
<polyline points="546,182 547,183" stroke="#00ff00" fill="none"/>
<polyline points="544,183 544,183" stroke="#00ff00" fill="none"/>
<polyline points="567,245 567,246" stroke="#00ff00" fill="none"/>
<polyline points="565,246 565,247 571,247 571,246" stroke="#00ff00" fill="none"/>
<polyline points="564,248 564,249" stroke="#00ff00" fill="none"/>
<polyline points="568,247 566,250 564,251" stroke="#00ff00" fill="none"/>
<polyline points="567,249 569,248 567,251 565,252 563,254" stroke="#00ff00" fill="none"/>
<polyline points="566,250 568,252 571,253" stroke="#00ff00" fill="none"/>
<polyline points="566,254 566,257" stroke="#00ff00" fill="none"/>
<polyline points="566,256 569,256" stroke="#00ff00" fill="none"/>
<polyline points="568,253 567,255" stroke="#00ff00" fill="none"/>
<polyline points="577,245 577,246" stroke="#00ff00" fill="none"/>
<polyline points="575,246 575,247 578,247" stroke="#00ff00" fill="none"/>
<polyline points="579,246 579,249" stroke="#00ff00" fill="none"/>
<polyline points="573,249 579,249" stroke="#00ff00" fill="none"/>
<polyline points="573,248 573,253 572,254 572,255" stroke="#00ff00" fill="none"/>
<polyline points="574,251 580,251" stroke="#00ff00" fill="none"/>
<polyline points="576,250 575,253" stroke="#00ff00" fill="none"/>
<polyline points="575,252 579,252" stroke="#00ff00" fill="none"/>
<polyline points="578,252 578,254" stroke="#00ff00" fill="none"/>
<polyline points="574,254 574,255" stroke="#00ff00" fill="none"/>
<polyline points="575,255 576,256" stroke="#00ff00" fill="none"/>
<polyline points="573,256 573,256" stroke="#00ff00" fill="none"/>
<polyline points="254,349 255,350" stroke="#00ff00" fill="none"/>
<polyline points="254,352 255,354" stroke="#00ff00" fill="none"/>
<polyline points="254,360 256,356" stroke="#00ff00" fill="none"/>
<polyline points="257,348 257,352" stroke="#00ff00" fill="none"/>
<polyline points="257,351 261,351" stroke="#00ff00" fill="none"/>
<polyline points="259,348 259,354" stroke="#00ff00" fill="none"/>
<polyline points="256,354 262,354" stroke="#00ff00" fill="none"/>
<polyline points="258,354 257,357 256,360" stroke="#00ff00" fill="none"/>
<polyline points="260,354 260,359 262,359 262,357" stroke="#00ff00" fill="none"/>
<polyline points="270,348 266,349" stroke="#00ff00" fill="none"/>
<polyline points="265,352 270,352" stroke="#00ff00" fill="none"/>
<polyline points="263,355 271,355" stroke="#00ff00" fill="none"/>
<polyline points="268,349 268,360 266,359" stroke="#00ff00" fill="none"/>
<polyline points="273,348 274,349" stroke="#00ff00" fill="none"/>
<polyline points="273,350 273,360" stroke="#00ff00" fill="none"/>
<polyline points="275,349 279,349 279,360 278,359" stroke="#00ff00" fill="none"/>
<polyline points="275,352 277,352 277,357 275,357 275,352" stroke="#00ff00" fill="none"/>
<polyline points="275,355 277,355" stroke="#00ff00" fill="none"/>
<polyline points="577,353 578,354" stroke="#00ff00" fill="none"/>
<polyline points="577,356 578,358" stroke="#00ff00" fill="none"/>
<polyline points="577,364 579,360" stroke="#00ff00" fill="none"/>
<polyline points="580,353 580,356" stroke="#00ff00" fill="none"/>
<polyline points="580,355 584,355" stroke="#00ff00" fill="none"/>
<polyline points="582,352 582,358" stroke="#00ff00" fill="none"/>
<polyline points="579,358 585,358" stroke="#00ff00" fill="none"/>
<polyline points="581,358 580,361 579,364" stroke="#00ff00" fill="none"/>
<polyline points="583,358 583,363 585,363 585,361" stroke="#00ff00" fill="none"/>
<polyline points="593,352 589,353" stroke="#00ff00" fill="none"/>
<polyline points="588,356 593,356" stroke="#00ff00" fill="none"/>
<polyline points="586,359 594,359" stroke="#00ff00" fill="none"/>
<polyline points="591,353 591,364 589,363" stroke="#00ff00" fill="none"/>
<polyline points="596,352 597,353" stroke="#00ff00" fill="none"/>
<polyline points="596,354 596,364" stroke="#00ff00" fill="none"/>
<polyline points="598,353 602,353 602,364 601,363" stroke="#00ff00" fill="none"/>
<polyline points="598,356 600,356 600,362 598,362 598,356" stroke="#00ff00" fill="none"/>
<polyline points="598,359 600,359" stroke="#00ff00" fill="none"/>
<polyline points="270,421 276,421" stroke="#00ff00" fill="none"/>
<polyline points="270,421 269,428 268,433" stroke="#00ff00" fill="none"/>
<polyline points="271,423 273,423 273,429 270,429 271,423" stroke="#00ff00" fill="none"/>
<polyline points="271,425 273,425" stroke="#00ff00" fill="none"/>
<polyline points="270,427 273,427" stroke="#00ff00" fill="none"/>
<polyline points="271,429 270,433" stroke="#00ff00" fill="none"/>
<polyline points="272,429 273,432" stroke="#00ff00" fill="none"/>
<polyline points="271,423 271,429" stroke="#00ff00" fill="none"/>
<polyline points="272,423 272,429" stroke="#00ff00" fill="none"/>
<polyline points="272,423 272,429" stroke="#00ff00" fill="none"/>
<polyline points="270,426 270,430" stroke="#00ff00" fill="none"/>
<polyline points="274,423 274,430" stroke="#00ff00" fill="none"/>
<polyline points="276,422 275,433 274,432" stroke="#00ff00" fill="none"/>
<polyline points="274,423 273,429" stroke="#00ff00" fill="none"/>
<polyline points="281,422 278,422" stroke="#00ff00" fill="none"/>
<polyline points="279,422 278,428 277,433" stroke="#00ff00" fill="none"/>
<polyline points="278,425 281,425 280,427 278,427" stroke="#00ff00" fill="none"/>
<polyline points="285,421 282,423" stroke="#00ff00" fill="none"/>
<polyline points="282,423 282,428 280,433" stroke="#00ff00" fill="none"/>
<polyline points="282,426 285,426" stroke="#00ff00" fill="none"/>
<polyline points="284,426 283,433" stroke="#00ff00" fill="none"/>
<polyline points="327,358 327,359" stroke="#00ff00" fill="none"/>
<polyline points="325,359 325,360 331,360 331,359" stroke="#00ff00" fill="none"/>
<polyline points="324,361 324,362" stroke="#00ff00" fill="none"/>
<polyline points="328,360 326,363 324,364" stroke="#00ff00" fill="none"/>
<polyline points="327,362 329,361 327,364 325,366 323,367" stroke="#00ff00" fill="none"/>
<polyline points="326,363 328,365 331,366" stroke="#00ff00" fill="none"/>
<polyline points="326,367 326,370" stroke="#00ff00" fill="none"/>
<polyline points="326,369 329,369" stroke="#00ff00" fill="none"/>
<polyline points="328,366 327,368" stroke="#00ff00" fill="none"/>
<polyline points="337,358 337,359" stroke="#00ff00" fill="none"/>
<polyline points="335,359 335,360 338,360" stroke="#00ff00" fill="none"/>
<polyline points="339,359 339,362" stroke="#00ff00" fill="none"/>
<polyline points="333,362 339,362" stroke="#00ff00" fill="none"/>
<polyline points="333,361 333,367 332,368 332,369" stroke="#00ff00" fill="none"/>
<polyline points="334,364 340,364" stroke="#00ff00" fill="none"/>
<polyline points="336,363 335,367" stroke="#00ff00" fill="none"/>
<polyline points="335,366 339,366" stroke="#00ff00" fill="none"/>
<polyline points="338,366 337,368" stroke="#00ff00" fill="none"/>
<polyline points="334,368 334,369" stroke="#00ff00" fill="none"/>
<polyline points="335,369 336,370" stroke="#00ff00" fill="none"/>
<polyline points="333,370 333,370" stroke="#00ff00" fill="none"/>
<polyline points="493,383 494,384" stroke="#00ff00" fill="none"/>
<polyline points="491,386 496,386" stroke="#00ff00" fill="none"/>
<polyline points="491,390 496,390" stroke="#00ff00" fill="none"/>
<polyline points="494,386 494,394" stroke="#00ff00" fill="none"/>
<polyline points="490,395 493,395 494,394 497,394" stroke="#00ff00" fill="none"/>
<polyline points="503,383 502,387 499,395" stroke="#00ff00" fill="none"/>
<polyline points="503,387 504,393 506,395" stroke="#00ff00" fill="none"/>
<polyline points="512,383 512,384" stroke="#00ff00" fill="none"/>
<polyline points="510,384 510,385 513,385" stroke="#00ff00" fill="none"/>
<polyline points="514,384 514,387" stroke="#00ff00" fill="none"/>
<polyline points="509,387 514,387" stroke="#00ff00" fill="none"/>
<polyline points="509,386 509,392 508,393 508,394" stroke="#00ff00" fill="none"/>
<polyline points="510,389 515,389" stroke="#00ff00" fill="none"/>
<polyline points="511,388 511,392" stroke="#00ff00" fill="none"/>
<polyline points="511,391 514,391" stroke="#00ff00" fill="none"/>
<polyline points="513,391 513,393" stroke="#00ff00" fill="none"/>
<polyline points="510,393 510,394" stroke="#00ff00" fill="none"/>
<polyline points="511,394 512,395" stroke="#00ff00" fill="none"/>
<polyline points="509,395 509,395" stroke="#00ff00" fill="none"/>
<polyline points="591,423 596,423 596,428 595,427" stroke="#00ff00" fill="none"/>
<polyline points="593,423 593,431" stroke="#00ff00" fill="none"/>
<polyline points="591,432 594,432 594,431 598,431" stroke="#00ff00" fill="none"/>
<polyline points="600,423 600,426 600,427 600,429" stroke="#00ff00" fill="none"/>
<polyline points="601,426 603,426 603,425 606,425" stroke="#00ff00" fill="none"/>
<polyline points="603,421 603,433" stroke="#00ff00" fill="none"/>
<polyline points="600,429 602,429 603,428 606,428" stroke="#00ff00" fill="none"/>
<polyline points="599,433 603,433 603,432 607,432" stroke="#00ff00" fill="none"/>
<polyline points="609,421 610,422" stroke="#00ff00" fill="none"/>
<polyline points="609,423 609,433" stroke="#00ff00" fill="none"/>
<polyline points="611,422 615,422 615,433 614,432" stroke="#00ff00" fill="none"/>
<polyline points="611,425 613,425 613,430 611,430 611,425" stroke="#00ff00" fill="none"/>
<polyline points="611,428 613,428" stroke="#00ff00" fill="none"/>
<polyline points="58,193 62,193 62,196" stroke="#00ff00" fill="none"/>
<polyline points="57,196 64,196 64,200 63,200" stroke="#00ff00" fill="none"/>
<polyline points="61,192 61,203" stroke="#00ff00" fill="none"/>
<polyline points="63,192 64,193" stroke="#00ff00" fill="none"/>
<polyline points="70,192 70,192" stroke="#00ff00" fill="none"/>
<polyline points="68,193 68,193 71,193" stroke="#00ff00" fill="none"/>
<polyline points="72,192 72,195" stroke="#00ff00" fill="none"/>
<polyline points="67,195 72,195" stroke="#00ff00" fill="none"/>
<polyline points="67,194 67,200 66,201 66,202" stroke="#00ff00" fill="none"/>
<polyline points="68,197 73,197" stroke="#00ff00" fill="none"/>
<polyline points="69,196 69,200" stroke="#00ff00" fill="none"/>
<polyline points="69,199 72,199" stroke="#00ff00" fill="none"/>
<polyline points="71,199 71,201" stroke="#00ff00" fill="none"/>
<polyline points="68,201 68,202" stroke="#00ff00" fill="none"/>
<polyline points="69,202 70,203" stroke="#00ff00" fill="none"/>
<polyline points="67,203 67,203" stroke="#00ff00" fill="none"/>
<polyline points="58,206 57,207 56,207 55,206 55,204 56,203 57,203 58,204 58,207 57,209 56,212 56,212" stroke="#00ff00" fill="none"/>
<polyline points="62,203 60,203 60,206 59,208 59,210 60,212 61,212 62,210 62,208 61,207 60,207 59,208" stroke="#00ff00" fill="none"/>
<polyline points="70,200 70,198 72,198 73,199 73,201 70,207 73,207" stroke="#00ff00" fill="none"/>
<polyline points="76,198 77,199 77,200 77,202 76,202 75,202 75,200 75,199 76,198" stroke="#00ff00" fill="none"/>
<polyline points="76,202 77,203 77,205 77,206 76,207 75,206 75,205 75,203 76,202" stroke="#00ff00" fill="none"/>
<polyline points="45,213 43,219 46,219" stroke="#00ff00" fill="none"/>
<polyline points="45,213 45,222" stroke="#00ff00" fill="none"/>
<polyline points="49,213 49,222" stroke="#00ff00" fill="none"/>
<polyline points="48,215 49,213" stroke="#00ff00" fill="none"/>
<polyline points="81,211 84,211 83,215 82,220" stroke="#00ff00" fill="none"/>
<polyline points="88,211 86,217 89,217" stroke="#00ff00" fill="none"/>
<polyline points="88,211 88,220" stroke="#00ff00" fill="none"/>
<polyline points="90,226 89,226 88,229 88,232 88,234 88,236 90,236 90,234 90,232 90,231 88,231 88,232" stroke="#00ff00" fill="none"/>
<polyline points="92,227 93,226 94,226 95,227 95,229 94,231 93,231" stroke="#00ff00" fill="none"/>
<polyline points="94,231 95,232 95,235 94,236 92,236 92,235" stroke="#00ff00" fill="none"/>
<polyline points="72,235 72,246" stroke="#00ff00" fill="none"/>
<polyline points="71,237 72,235" stroke="#00ff00" fill="none"/>
<polyline points="75,235 78,235 76,241 76,246" stroke="#00ff00" fill="none"/>
<polyline points="50,228 50,228 52,228 52,228 52,230 52,230 51,230" stroke="#00ff00" fill="none"/>
<polyline points="52,230 52,231 52,232 52,233 50,233 50,232" stroke="#00ff00" fill="none"/>
<polyline points="64,239 63,239 62,241 62,243 62,245 62,246 64,246 65,245 65,243 64,242 62,242 62,243" stroke="#00ff00" fill="none"/>
</g>
</svg>
</body></html>
